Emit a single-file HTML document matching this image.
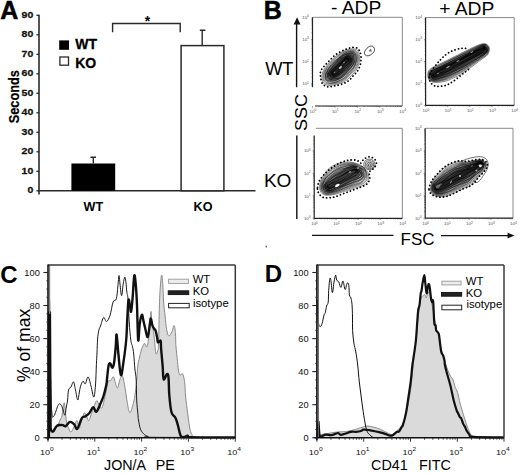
<!DOCTYPE html>
<html><head><meta charset="utf-8"><title>Figure</title>
<style>
html,body{margin:0;padding:0;background:#fff;}
body{width:520px;height:473px;overflow:hidden;}
svg{display:block;font-family:"Liberation Sans", sans-serif;}
</style></head><body>
<svg width="520" height="473" viewBox="0 0 520 473">
<rect width="520" height="473" fill="#fff"/>
<text x="0.3" y="18.6" font-size="25" font-weight="bold" fill="#000" stroke="#000" stroke-width="0.5">A</text>
<line x1="39" y1="14.8" x2="39" y2="194.6" stroke="#2a2a2a" stroke-width="1.6"/>
<line x1="36.4" y1="190.8" x2="39" y2="190.8" stroke="#2a2a2a" stroke-width="1.3"/>
<text x="0" y="0" transform="translate(33.3,193.0) scale(1.25,1)" text-anchor="end" font-size="8.4" font-weight="bold" fill="#111" stroke="#111" stroke-width="0.25">0</text>
<line x1="36.4" y1="171.3" x2="39" y2="171.3" stroke="#2a2a2a" stroke-width="1.3"/>
<text x="0" y="0" transform="translate(33.3,173.5) scale(1.25,1)" text-anchor="end" font-size="8.4" font-weight="bold" fill="#111" stroke="#111" stroke-width="0.25">10</text>
<line x1="36.4" y1="151.8" x2="39" y2="151.8" stroke="#2a2a2a" stroke-width="1.3"/>
<text x="0" y="0" transform="translate(33.3,154.0) scale(1.25,1)" text-anchor="end" font-size="8.4" font-weight="bold" fill="#111" stroke="#111" stroke-width="0.25">20</text>
<line x1="36.4" y1="132.3" x2="39" y2="132.3" stroke="#2a2a2a" stroke-width="1.3"/>
<text x="0" y="0" transform="translate(33.3,134.5) scale(1.25,1)" text-anchor="end" font-size="8.4" font-weight="bold" fill="#111" stroke="#111" stroke-width="0.25">30</text>
<line x1="36.4" y1="112.8" x2="39" y2="112.8" stroke="#2a2a2a" stroke-width="1.3"/>
<text x="0" y="0" transform="translate(33.3,115.0) scale(1.25,1)" text-anchor="end" font-size="8.4" font-weight="bold" fill="#111" stroke="#111" stroke-width="0.25">40</text>
<line x1="36.4" y1="93.3" x2="39" y2="93.3" stroke="#2a2a2a" stroke-width="1.3"/>
<text x="0" y="0" transform="translate(33.3,95.5) scale(1.25,1)" text-anchor="end" font-size="8.4" font-weight="bold" fill="#111" stroke="#111" stroke-width="0.25">50</text>
<line x1="36.4" y1="73.8" x2="39" y2="73.8" stroke="#2a2a2a" stroke-width="1.3"/>
<text x="0" y="0" transform="translate(33.3,76.0) scale(1.25,1)" text-anchor="end" font-size="8.4" font-weight="bold" fill="#111" stroke="#111" stroke-width="0.25">60</text>
<line x1="36.4" y1="54.3" x2="39" y2="54.3" stroke="#2a2a2a" stroke-width="1.3"/>
<text x="0" y="0" transform="translate(33.3,56.5) scale(1.25,1)" text-anchor="end" font-size="8.4" font-weight="bold" fill="#111" stroke="#111" stroke-width="0.25">70</text>
<line x1="36.4" y1="34.8" x2="39" y2="34.8" stroke="#2a2a2a" stroke-width="1.3"/>
<text x="0" y="0" transform="translate(33.3,37.0) scale(1.25,1)" text-anchor="end" font-size="8.4" font-weight="bold" fill="#111" stroke="#111" stroke-width="0.25">80</text>
<line x1="36.4" y1="15.3" x2="39" y2="15.3" stroke="#2a2a2a" stroke-width="1.3"/>
<text x="0" y="0" transform="translate(33.3,17.5) scale(1.25,1)" text-anchor="end" font-size="8.4" font-weight="bold" fill="#111" stroke="#111" stroke-width="0.25">90</text>
<line x1="38.2" y1="190.8" x2="255.5" y2="190.8" stroke="#2a2a2a" stroke-width="1.6"/>
<rect x="71.4" y="163.5" width="43.8" height="27.3" fill="#000"/>
<path d="M93.3,163.5 V157.2 M90.4,157.2 H96" stroke="#2a2a2a" stroke-width="1.4" fill="none"/>
<rect x="181.1" y="45.6" width="42.8" height="145.2" fill="#fff" stroke="#2a2a2a" stroke-width="1.5"/>
<path d="M202.2,45 V30.2 M199.8,30.2 H205.4" stroke="#2a2a2a" stroke-width="1.4" fill="none"/>
<path d="M112.6,32.2 V23.5 H180.2 V32.2" stroke="#2a2a2a" stroke-width="1.4" fill="none"/>
<text x="147.6" y="26" text-anchor="middle" font-size="14" font-weight="bold" fill="#000">*</text>
<rect x="59.2" y="40.4" width="9.8" height="9.4" fill="#000"/>
<rect x="59.9" y="57" width="8.6" height="8.2" fill="#fff" stroke="#2a2a2a" stroke-width="1.3"/>
<text x="75.2" y="49.1" font-size="14" font-weight="bold" fill="#000" stroke="#000" stroke-width="0.3">WT</text>
<text x="75.2" y="68" font-size="14" font-weight="bold" fill="#000" stroke="#000" stroke-width="0.3">KO</text>
<text transform="translate(19,96.7) rotate(-90) scale(1,1.1)" text-anchor="middle" font-size="12.8" font-weight="bold" fill="#000" stroke="#000" stroke-width="0.2">Seconds</text>
<text x="93.4" y="211" text-anchor="middle" font-size="12.6" font-weight="bold" fill="#000">WT</text>
<text x="203" y="211.1" text-anchor="middle" font-size="12.6" font-weight="bold" fill="#000">KO</text>
<text x="263.7" y="18.6" font-size="25" font-weight="bold" fill="#000" stroke="#000" stroke-width="0.5">B</text>
<text transform="translate(331,14.2) scale(1.07,1)" font-size="18" fill="#000">- ADP</text>
<text transform="translate(439.2,14.8) scale(1.07,1)" font-size="18" fill="#000">+ ADP</text>
<text transform="translate(265.2,75) scale(1.04,1)" font-size="17.5" fill="#000">WT</text>
<text transform="translate(263.9,187.3) scale(1.09,1)" font-size="17.5" fill="#000">KO</text>
<text transform="translate(307.2,112.5) rotate(-90) scale(1.09,1)" text-anchor="middle" font-size="16.5" fill="#000">SSC</text>
<text x="400.6" y="245.3" font-size="17" fill="#000">FSC</text>
<line x1="296.6" y1="87.2" x2="296.6" y2="23" stroke="#111" stroke-width="1.4"/>
<path d="M297.1,17.2 L300.5,24.6 L293.6,24.6Z" fill="#111"/>
<line x1="296.8" y1="135.6" x2="296.8" y2="219" stroke="#111" stroke-width="1.4"/>
<line x1="312" y1="235.4" x2="393.5" y2="235.4" stroke="#111" stroke-width="1.4"/>
<line x1="441" y1="235.6" x2="509" y2="235.6" stroke="#111" stroke-width="1.4"/>
<path d="M514.6,235.6 L507.6,232.8 L507.6,238.4Z" fill="#111"/>
<line x1="312.5" y1="17.3" x2="402.3" y2="17.3" stroke="#8a8a8a" stroke-width="1"/>
<line x1="402.3" y1="17.3" x2="402.3" y2="106" stroke="#8a8a8a" stroke-width="1"/>
<line x1="312.5" y1="17.3" x2="312.5" y2="87.2" stroke="#222" stroke-width="1.2"/>
<line x1="315" y1="106" x2="402.3" y2="106" stroke="#222" stroke-width="1.2"/>
<line x1="312.50" y1="106" x2="312.50" y2="107.6" stroke="#333" stroke-width="0.5"/>
<line x1="319.26" y1="106" x2="319.26" y2="107.0" stroke="#333" stroke-width="0.5"/>
<line x1="323.21" y1="106" x2="323.21" y2="107.0" stroke="#333" stroke-width="0.5"/>
<line x1="326.02" y1="106" x2="326.02" y2="107.0" stroke="#333" stroke-width="0.5"/>
<line x1="328.19" y1="106" x2="328.19" y2="107.0" stroke="#333" stroke-width="0.5"/>
<line x1="329.97" y1="106" x2="329.97" y2="107.0" stroke="#333" stroke-width="0.5"/>
<line x1="331.47" y1="106" x2="331.47" y2="107.0" stroke="#333" stroke-width="0.5"/>
<line x1="332.77" y1="106" x2="332.77" y2="107.0" stroke="#333" stroke-width="0.5"/>
<line x1="311.5" y1="85.97" x2="312.5" y2="85.97" stroke="#333" stroke-width="0.5"/>
<line x1="333.92" y1="106" x2="333.92" y2="107.0" stroke="#333" stroke-width="0.5"/>
<line x1="311.5" y1="84.84" x2="312.5" y2="84.84" stroke="#333" stroke-width="0.5"/>
<line x1="334.95" y1="106" x2="334.95" y2="107.6" stroke="#333" stroke-width="0.5"/>
<line x1="310.9" y1="83.83" x2="312.5" y2="83.83" stroke="#333" stroke-width="0.5"/>
<line x1="341.71" y1="106" x2="341.71" y2="107.0" stroke="#333" stroke-width="0.5"/>
<line x1="311.5" y1="77.15" x2="312.5" y2="77.15" stroke="#333" stroke-width="0.5"/>
<line x1="345.66" y1="106" x2="345.66" y2="107.0" stroke="#333" stroke-width="0.5"/>
<line x1="311.5" y1="73.24" x2="312.5" y2="73.24" stroke="#333" stroke-width="0.5"/>
<line x1="348.47" y1="106" x2="348.47" y2="107.0" stroke="#333" stroke-width="0.5"/>
<line x1="311.5" y1="70.47" x2="312.5" y2="70.47" stroke="#333" stroke-width="0.5"/>
<line x1="350.64" y1="106" x2="350.64" y2="107.0" stroke="#333" stroke-width="0.5"/>
<line x1="311.5" y1="68.33" x2="312.5" y2="68.33" stroke="#333" stroke-width="0.5"/>
<line x1="352.42" y1="106" x2="352.42" y2="107.0" stroke="#333" stroke-width="0.5"/>
<line x1="311.5" y1="66.57" x2="312.5" y2="66.57" stroke="#333" stroke-width="0.5"/>
<line x1="353.92" y1="106" x2="353.92" y2="107.0" stroke="#333" stroke-width="0.5"/>
<line x1="311.5" y1="65.08" x2="312.5" y2="65.08" stroke="#333" stroke-width="0.5"/>
<line x1="355.22" y1="106" x2="355.22" y2="107.0" stroke="#333" stroke-width="0.5"/>
<line x1="311.5" y1="63.80" x2="312.5" y2="63.80" stroke="#333" stroke-width="0.5"/>
<line x1="356.37" y1="106" x2="356.37" y2="107.0" stroke="#333" stroke-width="0.5"/>
<line x1="311.5" y1="62.66" x2="312.5" y2="62.66" stroke="#333" stroke-width="0.5"/>
<line x1="357.40" y1="106" x2="357.40" y2="107.6" stroke="#333" stroke-width="0.5"/>
<line x1="310.9" y1="61.65" x2="312.5" y2="61.65" stroke="#333" stroke-width="0.5"/>
<line x1="364.16" y1="106" x2="364.16" y2="107.0" stroke="#333" stroke-width="0.5"/>
<line x1="311.5" y1="54.97" x2="312.5" y2="54.97" stroke="#333" stroke-width="0.5"/>
<line x1="368.11" y1="106" x2="368.11" y2="107.0" stroke="#333" stroke-width="0.5"/>
<line x1="311.5" y1="51.07" x2="312.5" y2="51.07" stroke="#333" stroke-width="0.5"/>
<line x1="370.92" y1="106" x2="370.92" y2="107.0" stroke="#333" stroke-width="0.5"/>
<line x1="311.5" y1="48.30" x2="312.5" y2="48.30" stroke="#333" stroke-width="0.5"/>
<line x1="373.09" y1="106" x2="373.09" y2="107.0" stroke="#333" stroke-width="0.5"/>
<line x1="311.5" y1="46.15" x2="312.5" y2="46.15" stroke="#333" stroke-width="0.5"/>
<line x1="374.87" y1="106" x2="374.87" y2="107.0" stroke="#333" stroke-width="0.5"/>
<line x1="311.5" y1="44.39" x2="312.5" y2="44.39" stroke="#333" stroke-width="0.5"/>
<line x1="376.37" y1="106" x2="376.37" y2="107.0" stroke="#333" stroke-width="0.5"/>
<line x1="311.5" y1="42.91" x2="312.5" y2="42.91" stroke="#333" stroke-width="0.5"/>
<line x1="377.67" y1="106" x2="377.67" y2="107.0" stroke="#333" stroke-width="0.5"/>
<line x1="311.5" y1="41.62" x2="312.5" y2="41.62" stroke="#333" stroke-width="0.5"/>
<line x1="378.82" y1="106" x2="378.82" y2="107.0" stroke="#333" stroke-width="0.5"/>
<line x1="311.5" y1="40.49" x2="312.5" y2="40.49" stroke="#333" stroke-width="0.5"/>
<line x1="379.85" y1="106" x2="379.85" y2="107.6" stroke="#333" stroke-width="0.5"/>
<line x1="310.9" y1="39.47" x2="312.5" y2="39.47" stroke="#333" stroke-width="0.5"/>
<line x1="386.61" y1="106" x2="386.61" y2="107.0" stroke="#333" stroke-width="0.5"/>
<line x1="311.5" y1="32.80" x2="312.5" y2="32.80" stroke="#333" stroke-width="0.5"/>
<line x1="390.56" y1="106" x2="390.56" y2="107.0" stroke="#333" stroke-width="0.5"/>
<line x1="311.5" y1="28.89" x2="312.5" y2="28.89" stroke="#333" stroke-width="0.5"/>
<line x1="393.37" y1="106" x2="393.37" y2="107.0" stroke="#333" stroke-width="0.5"/>
<line x1="311.5" y1="26.12" x2="312.5" y2="26.12" stroke="#333" stroke-width="0.5"/>
<line x1="395.54" y1="106" x2="395.54" y2="107.0" stroke="#333" stroke-width="0.5"/>
<line x1="311.5" y1="23.98" x2="312.5" y2="23.98" stroke="#333" stroke-width="0.5"/>
<line x1="397.32" y1="106" x2="397.32" y2="107.0" stroke="#333" stroke-width="0.5"/>
<line x1="311.5" y1="22.22" x2="312.5" y2="22.22" stroke="#333" stroke-width="0.5"/>
<line x1="398.82" y1="106" x2="398.82" y2="107.0" stroke="#333" stroke-width="0.5"/>
<line x1="311.5" y1="20.73" x2="312.5" y2="20.73" stroke="#333" stroke-width="0.5"/>
<line x1="400.12" y1="106" x2="400.12" y2="107.0" stroke="#333" stroke-width="0.5"/>
<line x1="311.5" y1="19.45" x2="312.5" y2="19.45" stroke="#333" stroke-width="0.5"/>
<line x1="401.27" y1="106" x2="401.27" y2="107.0" stroke="#333" stroke-width="0.5"/>
<line x1="311.5" y1="18.31" x2="312.5" y2="18.31" stroke="#333" stroke-width="0.5"/>
<text x="309.5" y="113.0" font-size="4.4" fill="#555">10<tspan dy="-1.7" font-size="3.3">0</tspan></text>
<text x="331.9" y="113.0" font-size="4.4" fill="#555">10<tspan dy="-1.7" font-size="3.3">1</tspan></text>
<text x="302.2" y="85.4" font-size="4.4" fill="#555">10<tspan dy="-1.7" font-size="3.3">1</tspan></text>
<text x="354.4" y="113.0" font-size="4.4" fill="#555">10<tspan dy="-1.7" font-size="3.3">2</tspan></text>
<text x="302.2" y="63.2" font-size="4.4" fill="#555">10<tspan dy="-1.7" font-size="3.3">2</tspan></text>
<text x="376.9" y="113.0" font-size="4.4" fill="#555">10<tspan dy="-1.7" font-size="3.3">3</tspan></text>
<text x="302.2" y="41.1" font-size="4.4" fill="#555">10<tspan dy="-1.7" font-size="3.3">3</tspan></text>
<text x="399.3" y="113.0" font-size="4.4" fill="#555">10<tspan dy="-1.7" font-size="3.3">4</tspan></text>
<text x="302.2" y="18.9" font-size="4.4" fill="#555">10<tspan dy="-1.7" font-size="3.3">4</tspan></text>
<line x1="425.6" y1="17.6" x2="514.2" y2="17.6" stroke="#8a8a8a" stroke-width="1"/>
<line x1="514.2" y1="17.6" x2="514.2" y2="105.4" stroke="#8a8a8a" stroke-width="1"/>
<line x1="425.6" y1="17.6" x2="425.6" y2="105.4" stroke="#222" stroke-width="1.2"/>
<line x1="425.6" y1="105.4" x2="514.2" y2="105.4" stroke="#222" stroke-width="1.2"/>
<line x1="425.60" y1="105.4" x2="425.60" y2="107.0" stroke="#333" stroke-width="0.5"/>
<line x1="424.0" y1="105.40" x2="425.6" y2="105.40" stroke="#333" stroke-width="0.5"/>
<line x1="432.27" y1="105.4" x2="432.27" y2="106.4" stroke="#333" stroke-width="0.5"/>
<line x1="424.6" y1="98.79" x2="425.6" y2="98.79" stroke="#333" stroke-width="0.5"/>
<line x1="436.17" y1="105.4" x2="436.17" y2="106.4" stroke="#333" stroke-width="0.5"/>
<line x1="424.6" y1="94.93" x2="425.6" y2="94.93" stroke="#333" stroke-width="0.5"/>
<line x1="438.94" y1="105.4" x2="438.94" y2="106.4" stroke="#333" stroke-width="0.5"/>
<line x1="424.6" y1="92.18" x2="425.6" y2="92.18" stroke="#333" stroke-width="0.5"/>
<line x1="441.08" y1="105.4" x2="441.08" y2="106.4" stroke="#333" stroke-width="0.5"/>
<line x1="424.6" y1="90.06" x2="425.6" y2="90.06" stroke="#333" stroke-width="0.5"/>
<line x1="442.84" y1="105.4" x2="442.84" y2="106.4" stroke="#333" stroke-width="0.5"/>
<line x1="424.6" y1="88.32" x2="425.6" y2="88.32" stroke="#333" stroke-width="0.5"/>
<line x1="444.32" y1="105.4" x2="444.32" y2="106.4" stroke="#333" stroke-width="0.5"/>
<line x1="424.6" y1="86.85" x2="425.6" y2="86.85" stroke="#333" stroke-width="0.5"/>
<line x1="445.60" y1="105.4" x2="445.60" y2="106.4" stroke="#333" stroke-width="0.5"/>
<line x1="424.6" y1="85.58" x2="425.6" y2="85.58" stroke="#333" stroke-width="0.5"/>
<line x1="446.74" y1="105.4" x2="446.74" y2="106.4" stroke="#333" stroke-width="0.5"/>
<line x1="424.6" y1="84.45" x2="425.6" y2="84.45" stroke="#333" stroke-width="0.5"/>
<line x1="447.75" y1="105.4" x2="447.75" y2="107.0" stroke="#333" stroke-width="0.5"/>
<line x1="424.0" y1="83.45" x2="425.6" y2="83.45" stroke="#333" stroke-width="0.5"/>
<line x1="454.42" y1="105.4" x2="454.42" y2="106.4" stroke="#333" stroke-width="0.5"/>
<line x1="424.6" y1="76.84" x2="425.6" y2="76.84" stroke="#333" stroke-width="0.5"/>
<line x1="458.32" y1="105.4" x2="458.32" y2="106.4" stroke="#333" stroke-width="0.5"/>
<line x1="424.6" y1="72.98" x2="425.6" y2="72.98" stroke="#333" stroke-width="0.5"/>
<line x1="461.09" y1="105.4" x2="461.09" y2="106.4" stroke="#333" stroke-width="0.5"/>
<line x1="424.6" y1="70.23" x2="425.6" y2="70.23" stroke="#333" stroke-width="0.5"/>
<line x1="463.23" y1="105.4" x2="463.23" y2="106.4" stroke="#333" stroke-width="0.5"/>
<line x1="424.6" y1="68.11" x2="425.6" y2="68.11" stroke="#333" stroke-width="0.5"/>
<line x1="464.99" y1="105.4" x2="464.99" y2="106.4" stroke="#333" stroke-width="0.5"/>
<line x1="424.6" y1="66.37" x2="425.6" y2="66.37" stroke="#333" stroke-width="0.5"/>
<line x1="466.47" y1="105.4" x2="466.47" y2="106.4" stroke="#333" stroke-width="0.5"/>
<line x1="424.6" y1="64.90" x2="425.6" y2="64.90" stroke="#333" stroke-width="0.5"/>
<line x1="467.75" y1="105.4" x2="467.75" y2="106.4" stroke="#333" stroke-width="0.5"/>
<line x1="424.6" y1="63.63" x2="425.6" y2="63.63" stroke="#333" stroke-width="0.5"/>
<line x1="468.89" y1="105.4" x2="468.89" y2="106.4" stroke="#333" stroke-width="0.5"/>
<line x1="424.6" y1="62.50" x2="425.6" y2="62.50" stroke="#333" stroke-width="0.5"/>
<line x1="469.90" y1="105.4" x2="469.90" y2="107.0" stroke="#333" stroke-width="0.5"/>
<line x1="424.0" y1="61.50" x2="425.6" y2="61.50" stroke="#333" stroke-width="0.5"/>
<line x1="476.57" y1="105.4" x2="476.57" y2="106.4" stroke="#333" stroke-width="0.5"/>
<line x1="424.6" y1="54.89" x2="425.6" y2="54.89" stroke="#333" stroke-width="0.5"/>
<line x1="480.47" y1="105.4" x2="480.47" y2="106.4" stroke="#333" stroke-width="0.5"/>
<line x1="424.6" y1="51.03" x2="425.6" y2="51.03" stroke="#333" stroke-width="0.5"/>
<line x1="483.24" y1="105.4" x2="483.24" y2="106.4" stroke="#333" stroke-width="0.5"/>
<line x1="424.6" y1="48.28" x2="425.6" y2="48.28" stroke="#333" stroke-width="0.5"/>
<line x1="485.38" y1="105.4" x2="485.38" y2="106.4" stroke="#333" stroke-width="0.5"/>
<line x1="424.6" y1="46.16" x2="425.6" y2="46.16" stroke="#333" stroke-width="0.5"/>
<line x1="487.14" y1="105.4" x2="487.14" y2="106.4" stroke="#333" stroke-width="0.5"/>
<line x1="424.6" y1="44.42" x2="425.6" y2="44.42" stroke="#333" stroke-width="0.5"/>
<line x1="488.62" y1="105.4" x2="488.62" y2="106.4" stroke="#333" stroke-width="0.5"/>
<line x1="424.6" y1="42.95" x2="425.6" y2="42.95" stroke="#333" stroke-width="0.5"/>
<line x1="489.90" y1="105.4" x2="489.90" y2="106.4" stroke="#333" stroke-width="0.5"/>
<line x1="424.6" y1="41.68" x2="425.6" y2="41.68" stroke="#333" stroke-width="0.5"/>
<line x1="491.04" y1="105.4" x2="491.04" y2="106.4" stroke="#333" stroke-width="0.5"/>
<line x1="424.6" y1="40.55" x2="425.6" y2="40.55" stroke="#333" stroke-width="0.5"/>
<line x1="492.05" y1="105.4" x2="492.05" y2="107.0" stroke="#333" stroke-width="0.5"/>
<line x1="424.0" y1="39.55" x2="425.6" y2="39.55" stroke="#333" stroke-width="0.5"/>
<line x1="498.72" y1="105.4" x2="498.72" y2="106.4" stroke="#333" stroke-width="0.5"/>
<line x1="424.6" y1="32.94" x2="425.6" y2="32.94" stroke="#333" stroke-width="0.5"/>
<line x1="502.62" y1="105.4" x2="502.62" y2="106.4" stroke="#333" stroke-width="0.5"/>
<line x1="424.6" y1="29.08" x2="425.6" y2="29.08" stroke="#333" stroke-width="0.5"/>
<line x1="505.39" y1="105.4" x2="505.39" y2="106.4" stroke="#333" stroke-width="0.5"/>
<line x1="424.6" y1="26.33" x2="425.6" y2="26.33" stroke="#333" stroke-width="0.5"/>
<line x1="507.53" y1="105.4" x2="507.53" y2="106.4" stroke="#333" stroke-width="0.5"/>
<line x1="424.6" y1="24.21" x2="425.6" y2="24.21" stroke="#333" stroke-width="0.5"/>
<line x1="509.29" y1="105.4" x2="509.29" y2="106.4" stroke="#333" stroke-width="0.5"/>
<line x1="424.6" y1="22.47" x2="425.6" y2="22.47" stroke="#333" stroke-width="0.5"/>
<line x1="510.77" y1="105.4" x2="510.77" y2="106.4" stroke="#333" stroke-width="0.5"/>
<line x1="424.6" y1="21.00" x2="425.6" y2="21.00" stroke="#333" stroke-width="0.5"/>
<line x1="512.05" y1="105.4" x2="512.05" y2="106.4" stroke="#333" stroke-width="0.5"/>
<line x1="424.6" y1="19.73" x2="425.6" y2="19.73" stroke="#333" stroke-width="0.5"/>
<line x1="513.19" y1="105.4" x2="513.19" y2="106.4" stroke="#333" stroke-width="0.5"/>
<line x1="424.6" y1="18.60" x2="425.6" y2="18.60" stroke="#333" stroke-width="0.5"/>
<text x="422.6" y="112.4" font-size="4.4" fill="#555">10<tspan dy="-1.7" font-size="3.3">0</tspan></text>
<text x="415.3" y="107.0" font-size="4.4" fill="#555">10<tspan dy="-1.7" font-size="3.3">0</tspan></text>
<text x="444.8" y="112.4" font-size="4.4" fill="#555">10<tspan dy="-1.7" font-size="3.3">1</tspan></text>
<text x="415.3" y="85.0" font-size="4.4" fill="#555">10<tspan dy="-1.7" font-size="3.3">1</tspan></text>
<text x="466.9" y="112.4" font-size="4.4" fill="#555">10<tspan dy="-1.7" font-size="3.3">2</tspan></text>
<text x="415.3" y="63.1" font-size="4.4" fill="#555">10<tspan dy="-1.7" font-size="3.3">2</tspan></text>
<text x="489.1" y="112.4" font-size="4.4" fill="#555">10<tspan dy="-1.7" font-size="3.3">3</tspan></text>
<text x="415.3" y="41.1" font-size="4.4" fill="#555">10<tspan dy="-1.7" font-size="3.3">3</tspan></text>
<text x="511.2" y="112.4" font-size="4.4" fill="#555">10<tspan dy="-1.7" font-size="3.3">4</tspan></text>
<text x="415.3" y="19.2" font-size="4.4" fill="#555">10<tspan dy="-1.7" font-size="3.3">4</tspan></text>
<line x1="315.8" y1="128.3" x2="402.3" y2="128.3" stroke="#8a8a8a" stroke-width="1"/>
<line x1="402.3" y1="128.3" x2="402.3" y2="218.4" stroke="#8a8a8a" stroke-width="1"/>
<line x1="314.2" y1="128.3" x2="314.2" y2="128.3" stroke="#222" stroke-width="1.2"/>
<line x1="314.2" y1="135.6" x2="314.2" y2="218.4" stroke="#222" stroke-width="1.2"/>
<line x1="314.2" y1="218.4" x2="402.3" y2="218.4" stroke="#222" stroke-width="1.2"/>
<line x1="314.20" y1="218.4" x2="314.20" y2="220.0" stroke="#333" stroke-width="0.5"/>
<line x1="312.59999999999997" y1="218.40" x2="314.2" y2="218.40" stroke="#333" stroke-width="0.5"/>
<line x1="320.83" y1="218.4" x2="320.83" y2="219.4" stroke="#333" stroke-width="0.5"/>
<line x1="313.2" y1="211.62" x2="314.2" y2="211.62" stroke="#333" stroke-width="0.5"/>
<line x1="324.71" y1="218.4" x2="324.71" y2="219.4" stroke="#333" stroke-width="0.5"/>
<line x1="313.2" y1="207.65" x2="314.2" y2="207.65" stroke="#333" stroke-width="0.5"/>
<line x1="327.46" y1="218.4" x2="327.46" y2="219.4" stroke="#333" stroke-width="0.5"/>
<line x1="313.2" y1="204.84" x2="314.2" y2="204.84" stroke="#333" stroke-width="0.5"/>
<line x1="329.59" y1="218.4" x2="329.59" y2="219.4" stroke="#333" stroke-width="0.5"/>
<line x1="313.2" y1="202.66" x2="314.2" y2="202.66" stroke="#333" stroke-width="0.5"/>
<line x1="331.34" y1="218.4" x2="331.34" y2="219.4" stroke="#333" stroke-width="0.5"/>
<line x1="313.2" y1="200.87" x2="314.2" y2="200.87" stroke="#333" stroke-width="0.5"/>
<line x1="332.81" y1="218.4" x2="332.81" y2="219.4" stroke="#333" stroke-width="0.5"/>
<line x1="313.2" y1="199.36" x2="314.2" y2="199.36" stroke="#333" stroke-width="0.5"/>
<line x1="334.09" y1="218.4" x2="334.09" y2="219.4" stroke="#333" stroke-width="0.5"/>
<line x1="313.2" y1="198.06" x2="314.2" y2="198.06" stroke="#333" stroke-width="0.5"/>
<line x1="335.22" y1="218.4" x2="335.22" y2="219.4" stroke="#333" stroke-width="0.5"/>
<line x1="313.2" y1="196.91" x2="314.2" y2="196.91" stroke="#333" stroke-width="0.5"/>
<line x1="336.23" y1="218.4" x2="336.23" y2="220.0" stroke="#333" stroke-width="0.5"/>
<line x1="312.59999999999997" y1="195.88" x2="314.2" y2="195.88" stroke="#333" stroke-width="0.5"/>
<line x1="342.86" y1="218.4" x2="342.86" y2="219.4" stroke="#333" stroke-width="0.5"/>
<line x1="313.2" y1="189.09" x2="314.2" y2="189.09" stroke="#333" stroke-width="0.5"/>
<line x1="346.73" y1="218.4" x2="346.73" y2="219.4" stroke="#333" stroke-width="0.5"/>
<line x1="313.2" y1="185.13" x2="314.2" y2="185.13" stroke="#333" stroke-width="0.5"/>
<line x1="349.49" y1="218.4" x2="349.49" y2="219.4" stroke="#333" stroke-width="0.5"/>
<line x1="313.2" y1="182.31" x2="314.2" y2="182.31" stroke="#333" stroke-width="0.5"/>
<line x1="351.62" y1="218.4" x2="351.62" y2="219.4" stroke="#333" stroke-width="0.5"/>
<line x1="313.2" y1="180.13" x2="314.2" y2="180.13" stroke="#333" stroke-width="0.5"/>
<line x1="353.36" y1="218.4" x2="353.36" y2="219.4" stroke="#333" stroke-width="0.5"/>
<line x1="313.2" y1="178.35" x2="314.2" y2="178.35" stroke="#333" stroke-width="0.5"/>
<line x1="354.84" y1="218.4" x2="354.84" y2="219.4" stroke="#333" stroke-width="0.5"/>
<line x1="313.2" y1="176.84" x2="314.2" y2="176.84" stroke="#333" stroke-width="0.5"/>
<line x1="356.12" y1="218.4" x2="356.12" y2="219.4" stroke="#333" stroke-width="0.5"/>
<line x1="313.2" y1="175.53" x2="314.2" y2="175.53" stroke="#333" stroke-width="0.5"/>
<line x1="357.24" y1="218.4" x2="357.24" y2="219.4" stroke="#333" stroke-width="0.5"/>
<line x1="313.2" y1="174.38" x2="314.2" y2="174.38" stroke="#333" stroke-width="0.5"/>
<line x1="358.25" y1="218.4" x2="358.25" y2="220.0" stroke="#333" stroke-width="0.5"/>
<line x1="312.59999999999997" y1="173.35" x2="314.2" y2="173.35" stroke="#333" stroke-width="0.5"/>
<line x1="364.88" y1="218.4" x2="364.88" y2="219.4" stroke="#333" stroke-width="0.5"/>
<line x1="313.2" y1="166.57" x2="314.2" y2="166.57" stroke="#333" stroke-width="0.5"/>
<line x1="368.76" y1="218.4" x2="368.76" y2="219.4" stroke="#333" stroke-width="0.5"/>
<line x1="313.2" y1="162.60" x2="314.2" y2="162.60" stroke="#333" stroke-width="0.5"/>
<line x1="371.51" y1="218.4" x2="371.51" y2="219.4" stroke="#333" stroke-width="0.5"/>
<line x1="313.2" y1="159.79" x2="314.2" y2="159.79" stroke="#333" stroke-width="0.5"/>
<line x1="373.64" y1="218.4" x2="373.64" y2="219.4" stroke="#333" stroke-width="0.5"/>
<line x1="313.2" y1="157.61" x2="314.2" y2="157.61" stroke="#333" stroke-width="0.5"/>
<line x1="375.39" y1="218.4" x2="375.39" y2="219.4" stroke="#333" stroke-width="0.5"/>
<line x1="313.2" y1="155.82" x2="314.2" y2="155.82" stroke="#333" stroke-width="0.5"/>
<line x1="376.86" y1="218.4" x2="376.86" y2="219.4" stroke="#333" stroke-width="0.5"/>
<line x1="313.2" y1="154.31" x2="314.2" y2="154.31" stroke="#333" stroke-width="0.5"/>
<line x1="378.14" y1="218.4" x2="378.14" y2="219.4" stroke="#333" stroke-width="0.5"/>
<line x1="313.2" y1="153.01" x2="314.2" y2="153.01" stroke="#333" stroke-width="0.5"/>
<line x1="379.27" y1="218.4" x2="379.27" y2="219.4" stroke="#333" stroke-width="0.5"/>
<line x1="313.2" y1="151.86" x2="314.2" y2="151.86" stroke="#333" stroke-width="0.5"/>
<line x1="380.27" y1="218.4" x2="380.27" y2="220.0" stroke="#333" stroke-width="0.5"/>
<line x1="312.59999999999997" y1="150.83" x2="314.2" y2="150.83" stroke="#333" stroke-width="0.5"/>
<line x1="386.91" y1="218.4" x2="386.91" y2="219.4" stroke="#333" stroke-width="0.5"/>
<line x1="313.2" y1="144.04" x2="314.2" y2="144.04" stroke="#333" stroke-width="0.5"/>
<line x1="390.78" y1="218.4" x2="390.78" y2="219.4" stroke="#333" stroke-width="0.5"/>
<line x1="313.2" y1="140.08" x2="314.2" y2="140.08" stroke="#333" stroke-width="0.5"/>
<line x1="393.54" y1="218.4" x2="393.54" y2="219.4" stroke="#333" stroke-width="0.5"/>
<line x1="313.2" y1="137.26" x2="314.2" y2="137.26" stroke="#333" stroke-width="0.5"/>
<line x1="395.67" y1="218.4" x2="395.67" y2="219.4" stroke="#333" stroke-width="0.5"/>
<line x1="397.41" y1="218.4" x2="397.41" y2="219.4" stroke="#333" stroke-width="0.5"/>
<line x1="398.89" y1="218.4" x2="398.89" y2="219.4" stroke="#333" stroke-width="0.5"/>
<line x1="400.17" y1="218.4" x2="400.17" y2="219.4" stroke="#333" stroke-width="0.5"/>
<line x1="401.29" y1="218.4" x2="401.29" y2="219.4" stroke="#333" stroke-width="0.5"/>
<text x="311.2" y="225.4" font-size="4.4" fill="#555">10<tspan dy="-1.7" font-size="3.3">0</tspan></text>
<text x="303.9" y="220.0" font-size="4.4" fill="#555">10<tspan dy="-1.7" font-size="3.3">0</tspan></text>
<text x="333.2" y="225.4" font-size="4.4" fill="#555">10<tspan dy="-1.7" font-size="3.3">1</tspan></text>
<text x="303.9" y="197.5" font-size="4.4" fill="#555">10<tspan dy="-1.7" font-size="3.3">1</tspan></text>
<text x="355.2" y="225.4" font-size="4.4" fill="#555">10<tspan dy="-1.7" font-size="3.3">2</tspan></text>
<text x="303.9" y="175.0" font-size="4.4" fill="#555">10<tspan dy="-1.7" font-size="3.3">2</tspan></text>
<text x="377.3" y="225.4" font-size="4.4" fill="#555">10<tspan dy="-1.7" font-size="3.3">3</tspan></text>
<text x="303.9" y="152.4" font-size="4.4" fill="#555">10<tspan dy="-1.7" font-size="3.3">3</tspan></text>
<text x="399.3" y="225.4" font-size="4.4" fill="#555">10<tspan dy="-1.7" font-size="3.3">4</tspan></text>
<line x1="425.2" y1="128.3" x2="513" y2="128.3" stroke="#8a8a8a" stroke-width="1"/>
<line x1="513" y1="128.3" x2="513" y2="218.2" stroke="#8a8a8a" stroke-width="1"/>
<line x1="425.2" y1="128.3" x2="425.2" y2="218.2" stroke="#222" stroke-width="1.2"/>
<line x1="425.2" y1="218.2" x2="513" y2="218.2" stroke="#222" stroke-width="1.2"/>
<line x1="425.20" y1="218.2" x2="425.20" y2="219.79999999999998" stroke="#333" stroke-width="0.5"/>
<line x1="423.59999999999997" y1="218.20" x2="425.2" y2="218.20" stroke="#333" stroke-width="0.5"/>
<line x1="431.81" y1="218.2" x2="431.81" y2="219.2" stroke="#333" stroke-width="0.5"/>
<line x1="424.2" y1="211.43" x2="425.2" y2="211.43" stroke="#333" stroke-width="0.5"/>
<line x1="435.67" y1="218.2" x2="435.67" y2="219.2" stroke="#333" stroke-width="0.5"/>
<line x1="424.2" y1="207.48" x2="425.2" y2="207.48" stroke="#333" stroke-width="0.5"/>
<line x1="438.42" y1="218.2" x2="438.42" y2="219.2" stroke="#333" stroke-width="0.5"/>
<line x1="424.2" y1="204.67" x2="425.2" y2="204.67" stroke="#333" stroke-width="0.5"/>
<line x1="440.54" y1="218.2" x2="440.54" y2="219.2" stroke="#333" stroke-width="0.5"/>
<line x1="424.2" y1="202.49" x2="425.2" y2="202.49" stroke="#333" stroke-width="0.5"/>
<line x1="442.28" y1="218.2" x2="442.28" y2="219.2" stroke="#333" stroke-width="0.5"/>
<line x1="424.2" y1="200.71" x2="425.2" y2="200.71" stroke="#333" stroke-width="0.5"/>
<line x1="443.75" y1="218.2" x2="443.75" y2="219.2" stroke="#333" stroke-width="0.5"/>
<line x1="424.2" y1="199.21" x2="425.2" y2="199.21" stroke="#333" stroke-width="0.5"/>
<line x1="445.02" y1="218.2" x2="445.02" y2="219.2" stroke="#333" stroke-width="0.5"/>
<line x1="424.2" y1="197.90" x2="425.2" y2="197.90" stroke="#333" stroke-width="0.5"/>
<line x1="446.15" y1="218.2" x2="446.15" y2="219.2" stroke="#333" stroke-width="0.5"/>
<line x1="424.2" y1="196.75" x2="425.2" y2="196.75" stroke="#333" stroke-width="0.5"/>
<line x1="447.15" y1="218.2" x2="447.15" y2="219.79999999999998" stroke="#333" stroke-width="0.5"/>
<line x1="423.59999999999997" y1="195.72" x2="425.2" y2="195.72" stroke="#333" stroke-width="0.5"/>
<line x1="453.76" y1="218.2" x2="453.76" y2="219.2" stroke="#333" stroke-width="0.5"/>
<line x1="424.2" y1="188.96" x2="425.2" y2="188.96" stroke="#333" stroke-width="0.5"/>
<line x1="457.62" y1="218.2" x2="457.62" y2="219.2" stroke="#333" stroke-width="0.5"/>
<line x1="424.2" y1="185.00" x2="425.2" y2="185.00" stroke="#333" stroke-width="0.5"/>
<line x1="460.37" y1="218.2" x2="460.37" y2="219.2" stroke="#333" stroke-width="0.5"/>
<line x1="424.2" y1="182.19" x2="425.2" y2="182.19" stroke="#333" stroke-width="0.5"/>
<line x1="462.49" y1="218.2" x2="462.49" y2="219.2" stroke="#333" stroke-width="0.5"/>
<line x1="424.2" y1="180.02" x2="425.2" y2="180.02" stroke="#333" stroke-width="0.5"/>
<line x1="464.23" y1="218.2" x2="464.23" y2="219.2" stroke="#333" stroke-width="0.5"/>
<line x1="424.2" y1="178.24" x2="425.2" y2="178.24" stroke="#333" stroke-width="0.5"/>
<line x1="465.70" y1="218.2" x2="465.70" y2="219.2" stroke="#333" stroke-width="0.5"/>
<line x1="424.2" y1="176.73" x2="425.2" y2="176.73" stroke="#333" stroke-width="0.5"/>
<line x1="466.97" y1="218.2" x2="466.97" y2="219.2" stroke="#333" stroke-width="0.5"/>
<line x1="424.2" y1="175.43" x2="425.2" y2="175.43" stroke="#333" stroke-width="0.5"/>
<line x1="468.10" y1="218.2" x2="468.10" y2="219.2" stroke="#333" stroke-width="0.5"/>
<line x1="424.2" y1="174.28" x2="425.2" y2="174.28" stroke="#333" stroke-width="0.5"/>
<line x1="469.10" y1="218.2" x2="469.10" y2="219.79999999999998" stroke="#333" stroke-width="0.5"/>
<line x1="423.59999999999997" y1="173.25" x2="425.2" y2="173.25" stroke="#333" stroke-width="0.5"/>
<line x1="475.71" y1="218.2" x2="475.71" y2="219.2" stroke="#333" stroke-width="0.5"/>
<line x1="424.2" y1="166.48" x2="425.2" y2="166.48" stroke="#333" stroke-width="0.5"/>
<line x1="479.57" y1="218.2" x2="479.57" y2="219.2" stroke="#333" stroke-width="0.5"/>
<line x1="424.2" y1="162.53" x2="425.2" y2="162.53" stroke="#333" stroke-width="0.5"/>
<line x1="482.32" y1="218.2" x2="482.32" y2="219.2" stroke="#333" stroke-width="0.5"/>
<line x1="424.2" y1="159.72" x2="425.2" y2="159.72" stroke="#333" stroke-width="0.5"/>
<line x1="484.44" y1="218.2" x2="484.44" y2="219.2" stroke="#333" stroke-width="0.5"/>
<line x1="424.2" y1="157.54" x2="425.2" y2="157.54" stroke="#333" stroke-width="0.5"/>
<line x1="486.18" y1="218.2" x2="486.18" y2="219.2" stroke="#333" stroke-width="0.5"/>
<line x1="424.2" y1="155.76" x2="425.2" y2="155.76" stroke="#333" stroke-width="0.5"/>
<line x1="487.65" y1="218.2" x2="487.65" y2="219.2" stroke="#333" stroke-width="0.5"/>
<line x1="424.2" y1="154.26" x2="425.2" y2="154.26" stroke="#333" stroke-width="0.5"/>
<line x1="488.92" y1="218.2" x2="488.92" y2="219.2" stroke="#333" stroke-width="0.5"/>
<line x1="424.2" y1="152.95" x2="425.2" y2="152.95" stroke="#333" stroke-width="0.5"/>
<line x1="490.05" y1="218.2" x2="490.05" y2="219.2" stroke="#333" stroke-width="0.5"/>
<line x1="424.2" y1="151.80" x2="425.2" y2="151.80" stroke="#333" stroke-width="0.5"/>
<line x1="491.05" y1="218.2" x2="491.05" y2="219.79999999999998" stroke="#333" stroke-width="0.5"/>
<line x1="423.59999999999997" y1="150.78" x2="425.2" y2="150.78" stroke="#333" stroke-width="0.5"/>
<line x1="497.66" y1="218.2" x2="497.66" y2="219.2" stroke="#333" stroke-width="0.5"/>
<line x1="424.2" y1="144.01" x2="425.2" y2="144.01" stroke="#333" stroke-width="0.5"/>
<line x1="501.52" y1="218.2" x2="501.52" y2="219.2" stroke="#333" stroke-width="0.5"/>
<line x1="424.2" y1="140.05" x2="425.2" y2="140.05" stroke="#333" stroke-width="0.5"/>
<line x1="504.27" y1="218.2" x2="504.27" y2="219.2" stroke="#333" stroke-width="0.5"/>
<line x1="424.2" y1="137.24" x2="425.2" y2="137.24" stroke="#333" stroke-width="0.5"/>
<line x1="506.39" y1="218.2" x2="506.39" y2="219.2" stroke="#333" stroke-width="0.5"/>
<line x1="424.2" y1="135.07" x2="425.2" y2="135.07" stroke="#333" stroke-width="0.5"/>
<line x1="508.13" y1="218.2" x2="508.13" y2="219.2" stroke="#333" stroke-width="0.5"/>
<line x1="424.2" y1="133.29" x2="425.2" y2="133.29" stroke="#333" stroke-width="0.5"/>
<line x1="509.60" y1="218.2" x2="509.60" y2="219.2" stroke="#333" stroke-width="0.5"/>
<line x1="424.2" y1="131.78" x2="425.2" y2="131.78" stroke="#333" stroke-width="0.5"/>
<line x1="510.87" y1="218.2" x2="510.87" y2="219.2" stroke="#333" stroke-width="0.5"/>
<line x1="424.2" y1="130.48" x2="425.2" y2="130.48" stroke="#333" stroke-width="0.5"/>
<line x1="512.00" y1="218.2" x2="512.00" y2="219.2" stroke="#333" stroke-width="0.5"/>
<line x1="424.2" y1="129.33" x2="425.2" y2="129.33" stroke="#333" stroke-width="0.5"/>
<text x="422.2" y="225.2" font-size="4.4" fill="#555">10<tspan dy="-1.7" font-size="3.3">0</tspan></text>
<text x="414.9" y="219.8" font-size="4.4" fill="#555">10<tspan dy="-1.7" font-size="3.3">0</tspan></text>
<text x="444.1" y="225.2" font-size="4.4" fill="#555">10<tspan dy="-1.7" font-size="3.3">1</tspan></text>
<text x="414.9" y="197.3" font-size="4.4" fill="#555">10<tspan dy="-1.7" font-size="3.3">1</tspan></text>
<text x="466.1" y="225.2" font-size="4.4" fill="#555">10<tspan dy="-1.7" font-size="3.3">2</tspan></text>
<text x="414.9" y="174.8" font-size="4.4" fill="#555">10<tspan dy="-1.7" font-size="3.3">2</tspan></text>
<text x="488.1" y="225.2" font-size="4.4" fill="#555">10<tspan dy="-1.7" font-size="3.3">3</tspan></text>
<text x="414.9" y="152.4" font-size="4.4" fill="#555">10<tspan dy="-1.7" font-size="3.3">3</tspan></text>
<text x="510.0" y="225.2" font-size="4.4" fill="#555">10<tspan dy="-1.7" font-size="3.3">4</tspan></text>
<text x="414.9" y="129.9" font-size="4.4" fill="#555">10<tspan dy="-1.7" font-size="3.3">4</tspan></text>
<path d="M352.80,48.90 C354.52,48.98 356.47,48.98 357.60,50.20 C358.73,51.42 359.38,53.90 359.60,56.20 C359.82,58.50 359.47,61.67 358.90,64.00 C358.33,66.33 357.37,68.33 356.20,70.20 C355.03,72.07 353.47,73.57 351.90,75.20 C350.33,76.83 348.65,78.68 346.80,80.00 C344.95,81.32 342.97,82.28 340.80,83.10 C338.63,83.92 336.02,84.55 333.80,84.90 C331.58,85.25 329.33,85.68 327.50,85.20 C325.67,84.72 323.72,83.67 322.80,82.00 C321.88,80.33 321.87,77.15 322.00,75.20 C322.13,73.25 322.75,71.98 323.60,70.30 C324.45,68.62 325.73,66.82 327.10,65.10 C328.47,63.38 330.18,61.62 331.80,60.00 C333.42,58.38 335.08,56.75 336.80,55.40 C338.52,54.05 340.35,52.85 342.10,51.90 C343.85,50.95 345.52,50.20 347.30,49.70 C349.08,49.20 351.08,48.82 352.80,48.90Z" fill="#000" fill-opacity="0.000" stroke="#000" stroke-opacity="0.9" stroke-width="0.5"/>
<path d="M352.29,49.87 C353.86,49.94 355.64,49.94 356.68,51.06 C357.71,52.17 358.30,54.43 358.50,56.53 C358.70,58.63 358.39,61.51 357.86,63.65 C357.34,65.79 356.49,67.57 355.35,69.35 C354.21,71.13 352.59,72.69 351.02,74.32 C349.45,75.95 347.74,77.82 345.94,79.14 C344.13,80.45 342.23,81.43 340.21,82.22 C338.19,83.01 335.84,83.54 333.82,83.86 C331.79,84.18 329.74,84.58 328.07,84.14 C326.39,83.69 324.61,82.74 323.78,81.21 C322.94,79.69 322.93,76.79 323.05,75.01 C323.17,73.23 323.72,72.08 324.51,70.54 C325.29,68.99 326.42,67.39 327.75,65.75 C329.07,64.10 330.85,62.28 332.46,60.66 C334.08,59.05 335.77,57.39 337.45,56.05 C339.12,54.70 340.89,53.51 342.53,52.61 C344.17,51.70 345.65,51.06 347.27,50.60 C348.90,50.14 350.73,49.79 352.29,49.87Z" fill="#000" fill-opacity="0.000" stroke="#000" stroke-opacity="0.9" stroke-width="0.5"/>
<path d="M351.92,50.59 C353.37,50.66 355.03,50.66 355.99,51.69 C356.95,52.72 357.50,54.83 357.69,56.78 C357.87,58.73 357.59,61.40 357.09,63.39 C356.60,65.38 355.85,67.01 354.73,68.73 C353.61,70.44 351.94,72.04 350.37,73.67 C348.80,75.30 347.06,77.18 345.30,78.50 C343.53,79.81 341.68,80.80 339.77,81.57 C337.86,82.33 335.71,82.80 333.83,83.09 C331.95,83.39 330.04,83.76 328.49,83.35 C326.93,82.94 325.28,82.05 324.50,80.63 C323.72,79.22 323.71,76.52 323.82,74.87 C323.94,73.21 324.45,72.15 325.18,70.71 C325.91,69.27 326.93,67.82 328.22,66.22 C329.52,64.63 331.34,62.77 332.95,61.15 C334.57,59.54 336.28,57.86 337.92,56.52 C339.57,55.19 341.29,54.01 342.84,53.13 C344.40,52.25 345.74,51.69 347.25,51.26 C348.77,50.84 350.46,50.52 351.92,50.59Z" fill="#000" fill-opacity="0.000" stroke="#000" stroke-opacity="0.9" stroke-width="0.5"/>
<path d="M351.36,51.27 C352.70,51.29 354.31,51.45 355.26,52.35 C356.21,53.24 356.94,54.78 357.06,56.63 C357.18,58.48 356.50,61.56 355.99,63.45 C355.47,65.33 354.92,66.33 353.96,67.94 C352.99,69.54 351.70,71.40 350.21,73.06 C348.72,74.72 346.79,76.63 345.01,77.90 C343.22,79.17 341.33,79.88 339.49,80.68 C337.65,81.48 335.72,82.35 333.96,82.71 C332.19,83.07 330.33,83.34 328.89,82.84 C327.44,82.35 325.99,81.08 325.30,79.74 C324.61,78.40 324.69,76.36 324.74,74.82 C324.79,73.27 324.91,71.83 325.62,70.47 C326.32,69.10 327.64,68.06 328.97,66.63 C330.29,65.21 331.99,63.47 333.58,61.92 C335.18,60.37 336.96,58.66 338.54,57.31 C340.11,55.97 341.60,54.70 343.04,53.86 C344.48,53.01 345.80,52.67 347.19,52.23 C348.58,51.80 350.01,51.25 351.36,51.27Z" fill="#000" fill-opacity="0.100" stroke="#000" stroke-opacity="0.9" stroke-width="0.5"/>
<path d="M351.61,51.47 C352.83,51.54 353.62,51.59 354.47,52.54 C355.32,53.48 356.45,55.44 356.69,57.15 C356.92,58.85 356.37,61.03 355.87,62.76 C355.36,64.49 354.77,65.89 353.64,67.53 C352.51,69.17 350.67,70.92 349.11,72.62 C347.54,74.32 345.91,76.38 344.26,77.75 C342.60,79.11 340.85,80.07 339.17,80.81 C337.48,81.56 335.81,82.05 334.17,82.19 C332.54,82.34 330.72,82.03 329.37,81.67 C328.03,81.31 326.73,81.20 326.09,80.04 C325.45,78.87 325.46,76.23 325.54,74.68 C325.61,73.13 325.91,72.01 326.54,70.75 C327.18,69.49 328.18,68.65 329.36,67.12 C330.53,65.60 332.00,63.17 333.62,61.62 C335.24,60.06 337.51,59.02 339.08,57.80 C340.64,56.58 341.68,55.26 343.03,54.31 C344.37,53.37 345.71,52.58 347.14,52.11 C348.57,51.64 350.39,51.40 351.61,51.47Z" fill="#000" fill-opacity="0.100" stroke="#000" stroke-opacity="0.9" stroke-width="0.5"/>
<path d="M350.77,52.67 C352.01,52.62 353.78,52.15 354.60,52.87 C355.43,53.58 355.60,55.35 355.72,56.97 C355.85,58.59 355.72,60.80 355.34,62.57 C354.97,64.34 354.60,65.94 353.49,67.59 C352.39,69.24 350.39,71.02 348.73,72.50 C347.06,73.98 345.15,75.31 343.49,76.47 C341.83,77.63 340.40,78.70 338.74,79.46 C337.09,80.22 335.09,80.79 333.58,81.05 C332.06,81.31 330.94,81.27 329.66,81.02 C328.38,80.76 326.58,80.52 325.91,79.50 C325.23,78.49 325.39,76.35 325.62,74.94 C325.84,73.53 326.63,72.28 327.27,71.04 C327.90,69.79 328.22,68.88 329.40,67.46 C330.58,66.04 332.71,64.09 334.34,62.49 C335.97,60.89 337.57,59.19 339.20,57.85 C340.82,56.52 342.74,55.25 344.07,54.47 C345.39,53.69 346.02,53.47 347.14,53.17 C348.26,52.87 349.53,52.72 350.77,52.67Z" fill="#000" fill-opacity="0.100" stroke="#000" stroke-opacity="0.9" stroke-width="0.5"/>
<path d="M350.42,52.76 C351.57,52.78 353.43,53.08 354.20,53.81 C354.97,54.53 355.00,55.63 355.04,57.10 C355.08,58.57 354.94,61.01 354.46,62.62 C353.98,64.23 353.19,65.36 352.17,66.77 C351.15,68.18 349.83,69.49 348.36,71.08 C346.88,72.68 344.95,74.98 343.31,76.34 C341.66,77.71 340.03,78.52 338.49,79.26 C336.95,80.00 335.60,80.61 334.08,80.78 C332.56,80.96 330.57,80.57 329.40,80.30 C328.23,80.03 327.62,80.16 327.07,79.17 C326.53,78.18 326.07,75.70 326.14,74.35 C326.21,73.01 326.91,72.23 327.50,71.11 C328.09,69.99 328.51,68.99 329.67,67.62 C330.83,66.25 332.84,64.48 334.45,62.88 C336.06,61.27 337.69,59.40 339.31,57.98 C340.93,56.57 342.84,55.10 344.16,54.39 C345.49,53.68 346.22,53.97 347.26,53.70 C348.30,53.43 349.26,52.74 350.42,52.76Z" fill="#000" fill-opacity="0.100" stroke="#000" stroke-opacity="0.9" stroke-width="0.5"/>
<path d="M350.20,53.20 C351.29,53.22 352.89,53.23 353.53,53.98 C354.17,54.73 353.95,56.38 354.06,57.70 C354.17,59.03 354.53,60.54 354.18,61.93 C353.84,63.31 353.01,64.50 352.00,66.01 C350.98,67.52 349.58,69.39 348.09,70.98 C346.60,72.57 344.79,74.21 343.08,75.56 C341.36,76.91 339.28,78.35 337.81,79.08 C336.35,79.81 335.61,79.81 334.29,79.92 C332.97,80.04 331.04,80.08 329.90,79.75 C328.76,79.42 327.90,78.80 327.47,77.95 C327.03,77.10 327.27,75.77 327.29,74.64 C327.31,73.52 327.04,72.24 327.57,71.18 C328.10,70.13 329.20,69.68 330.49,68.31 C331.77,66.94 333.77,64.66 335.27,62.98 C336.77,61.31 337.95,59.57 339.47,58.24 C341.00,56.92 343.18,55.74 344.44,55.01 C345.69,54.28 346.05,54.18 347.01,53.88 C347.98,53.57 349.11,53.18 350.20,53.20Z" fill="#000" fill-opacity="0.100" stroke="#000" stroke-opacity="0.9" stroke-width="0.5"/>
<path d="M350.04,53.91 C351.01,53.89 352.65,53.58 353.18,54.33 C353.72,55.09 353.14,57.04 353.25,58.44 C353.36,59.83 354.10,61.40 353.84,62.69 C353.57,63.99 352.68,64.97 351.66,66.23 C350.64,67.49 349.27,68.67 347.74,70.27 C346.22,71.86 344.16,74.44 342.51,75.81 C340.86,77.18 339.32,77.90 337.85,78.47 C336.37,79.04 334.94,79.14 333.66,79.24 C332.38,79.35 331.13,79.38 330.19,79.11 C329.26,78.84 328.44,78.52 328.06,77.62 C327.67,76.72 327.74,74.66 327.87,73.69 C328.00,72.71 328.32,72.55 328.83,71.76 C329.35,70.97 329.82,70.31 330.97,68.94 C332.13,67.58 334.29,65.23 335.74,63.58 C337.19,61.94 338.30,60.44 339.67,59.08 C341.05,57.72 342.72,56.18 344.00,55.41 C345.27,54.64 346.33,54.72 347.34,54.47 C348.35,54.22 349.07,53.94 350.04,53.91Z" fill="#000" fill-opacity="0.100" stroke="#000" stroke-opacity="0.9" stroke-width="0.5"/>
<path d="M349.77,55.02 C350.71,55.03 351.84,54.39 352.37,54.98 C352.89,55.56 352.86,57.32 352.94,58.54 C353.02,59.76 353.16,61.23 352.85,62.30 C352.55,63.37 352.12,63.58 351.12,64.94 C350.12,66.31 348.47,68.75 346.85,70.48 C345.24,72.21 342.91,74.02 341.41,75.33 C339.91,76.64 339.03,77.84 337.84,78.34 C336.65,78.84 335.42,78.13 334.27,78.31 C333.12,78.50 331.99,79.63 330.94,79.44 C329.88,79.26 328.47,78.07 327.95,77.18 C327.43,76.30 327.67,75.04 327.81,74.12 C327.94,73.19 328.21,72.61 328.77,71.64 C329.33,70.66 330.10,69.64 331.16,68.27 C332.22,66.90 333.64,65.02 335.13,63.42 C336.63,61.81 338.45,59.82 340.11,58.65 C341.78,57.48 344.03,57.03 345.13,56.41 C346.22,55.78 345.90,55.15 346.67,54.91 C347.45,54.68 348.82,55.01 349.77,55.02Z" fill="#000" fill-opacity="0.100" stroke="#000" stroke-opacity="0.9" stroke-width="0.5"/>
<path d="M349.39,54.79 C350.04,54.88 351.02,55.22 351.59,55.77 C352.15,56.33 352.70,57.15 352.77,58.13 C352.83,59.10 352.37,60.46 351.98,61.59 C351.58,62.73 351.30,63.60 350.41,64.93 C349.52,66.25 348.22,67.98 346.63,69.52 C345.03,71.06 342.47,72.81 340.85,74.16 C339.23,75.52 338.00,76.99 336.90,77.66 C335.80,78.34 335.16,78.04 334.25,78.20 C333.34,78.37 332.33,78.85 331.44,78.63 C330.55,78.41 329.36,77.63 328.88,76.89 C328.41,76.16 328.54,75.04 328.60,74.23 C328.66,73.42 328.81,72.91 329.23,72.02 C329.65,71.13 329.99,70.13 331.13,68.87 C332.26,67.60 334.49,66.00 336.03,64.42 C337.57,62.84 338.91,60.65 340.36,59.38 C341.81,58.12 343.49,57.51 344.71,56.81 C345.93,56.12 346.88,55.56 347.66,55.22 C348.44,54.88 348.73,54.70 349.39,54.79Z" fill="#000" fill-opacity="0.100" stroke="#000" stroke-opacity="0.9" stroke-width="0.5"/>
<path d="M349.85,55.86 C350.45,55.97 350.71,55.48 351.00,55.98 C351.30,56.48 351.47,57.83 351.64,58.85 C351.81,59.87 352.17,61.14 352.03,62.11 C351.89,63.07 351.77,63.45 350.80,64.65 C349.83,65.85 347.95,67.71 346.22,69.31 C344.49,70.91 342.10,73.00 340.42,74.23 C338.74,75.45 337.17,76.15 336.14,76.65 C335.11,77.16 335.14,77.13 334.26,77.26 C333.38,77.39 331.57,77.62 330.85,77.45 C330.13,77.28 330.32,76.77 329.93,76.25 C329.54,75.73 328.64,74.97 328.53,74.32 C328.43,73.67 328.78,73.07 329.31,72.33 C329.84,71.60 330.45,71.20 331.71,69.92 C332.98,68.63 335.24,66.40 336.88,64.61 C338.52,62.83 340.16,60.53 341.57,59.22 C342.98,57.90 344.38,57.37 345.35,56.73 C346.32,56.08 346.64,55.47 347.39,55.33 C348.14,55.18 349.25,55.75 349.85,55.86Z" fill="#000" fill-opacity="0.100" stroke="#000" stroke-opacity="0.9" stroke-width="0.5"/>
<path d="M349.43,56.54 C349.97,56.48 349.91,55.80 350.28,56.21 C350.65,56.63 351.54,58.24 351.66,59.05 C351.78,59.85 351.31,60.18 350.98,61.04 C350.66,61.89 350.56,62.90 349.70,64.17 C348.84,65.44 347.39,67.10 345.83,68.66 C344.27,70.22 341.91,72.24 340.32,73.56 C338.73,74.88 337.43,75.93 336.27,76.56 C335.12,77.19 334.06,77.19 333.39,77.32 C332.72,77.45 332.78,77.56 332.26,77.32 C331.73,77.07 330.65,76.36 330.26,75.83 C329.86,75.30 329.86,74.76 329.89,74.13 C329.92,73.50 330.13,72.73 330.45,72.04 C330.77,71.35 330.67,71.28 331.79,70.00 C332.91,68.72 335.63,65.98 337.16,64.39 C338.69,62.79 339.55,61.65 340.99,60.44 C342.42,59.22 344.76,57.73 345.76,57.08 C346.77,56.43 346.42,56.64 347.03,56.55 C347.65,56.45 348.89,56.59 349.43,56.54Z" fill="#000" fill-opacity="0.100" stroke="#000" stroke-opacity="0.9" stroke-width="0.5"/>
<path d="M348.44,56.12 C348.87,56.07 349.60,56.59 350.00,56.97 C350.39,57.35 350.61,57.60 350.79,58.42 C350.97,59.24 351.32,60.98 351.08,61.90 C350.83,62.81 350.36,62.73 349.34,63.89 C348.32,65.05 346.48,67.34 344.96,68.85 C343.43,70.36 341.72,71.84 340.19,72.96 C338.66,74.09 336.85,74.98 335.80,75.60 C334.75,76.21 334.63,76.47 333.91,76.66 C333.19,76.85 332.10,76.79 331.47,76.73 C330.85,76.66 330.47,76.65 330.17,76.26 C329.87,75.87 329.59,75.03 329.67,74.37 C329.75,73.70 330.23,72.90 330.64,72.27 C331.04,71.64 330.96,71.75 332.08,70.58 C333.21,69.41 335.78,66.88 337.40,65.24 C339.02,63.60 340.38,62.05 341.80,60.72 C343.22,59.39 344.97,57.83 345.91,57.27 C346.84,56.70 346.99,57.51 347.41,57.32 C347.83,57.13 348.01,56.18 348.44,56.12Z" fill="#000" fill-opacity="0.100" stroke="#000" stroke-opacity="0.9" stroke-width="0.5"/>
<path d="M348.57,56.52 C348.98,56.68 349.23,57.06 349.59,57.57 C349.96,58.08 350.56,59.05 350.77,59.58 C350.97,60.11 351.15,60.21 350.82,60.76 C350.49,61.31 349.88,61.62 348.78,62.87 C347.68,64.12 345.65,66.49 344.22,68.24 C342.79,70.00 341.61,72.08 340.17,73.43 C338.72,74.77 336.64,75.87 335.56,76.33 C334.48,76.80 334.19,76.30 333.68,76.22 C333.17,76.13 333.07,75.87 332.50,75.83 C331.94,75.79 330.66,76.38 330.30,75.98 C329.94,75.58 330.20,74.00 330.36,73.41 C330.51,72.83 330.98,73.03 331.21,72.49 C331.44,71.96 330.75,71.37 331.74,70.20 C332.74,69.03 335.52,67.01 337.19,65.46 C338.85,63.90 340.21,62.16 341.73,60.85 C343.24,59.54 345.37,58.29 346.27,57.58 C347.17,56.87 346.76,56.77 347.15,56.59 C347.53,56.41 348.17,56.36 348.57,56.52Z" fill="#000" fill-opacity="0.100" stroke="#000" stroke-opacity="0.9" stroke-width="0.5"/>
<path d="M348.06,57.59 C348.41,57.65 348.54,58.07 348.97,58.22 C349.39,58.38 350.35,58.08 350.60,58.51 C350.85,58.93 350.71,59.99 350.48,60.77 C350.25,61.55 350.30,62.02 349.21,63.19 C348.12,64.36 345.57,66.18 343.95,67.80 C342.33,69.42 340.93,71.58 339.48,72.91 C338.04,74.23 336.09,75.25 335.28,75.78 C334.47,76.31 335.08,76.16 334.62,76.09 C334.16,76.02 333.05,75.54 332.50,75.35 C331.95,75.16 331.49,75.19 331.32,74.93 C331.15,74.67 331.40,74.29 331.45,73.78 C331.50,73.28 331.37,72.37 331.62,71.89 C331.86,71.42 332.03,71.85 332.95,70.92 C333.86,70.00 335.50,68.09 337.12,66.35 C338.74,64.61 341.10,61.96 342.66,60.49 C344.22,59.02 345.76,57.99 346.46,57.55 C347.15,57.11 346.56,57.86 346.83,57.86 C347.09,57.87 347.70,57.53 348.06,57.59Z" fill="#000" fill-opacity="0.100" stroke="#000" stroke-opacity="0.9" stroke-width="0.5"/>
<path d="M348.30,57.88 C348.69,57.83 349.17,57.85 349.32,57.99 C349.48,58.14 349.32,58.24 349.22,58.76 C349.11,59.28 348.78,60.50 348.71,61.12 C348.64,61.74 349.56,61.52 348.80,62.49 C348.05,63.46 345.92,65.36 344.20,66.93 C342.49,68.50 339.89,70.66 338.51,71.89 C337.13,73.12 336.66,73.80 335.91,74.31 C335.15,74.83 334.43,74.83 333.97,74.98 C333.50,75.13 333.52,75.26 333.12,75.20 C332.71,75.14 331.77,74.86 331.53,74.64 C331.29,74.41 331.65,74.12 331.68,73.84 C331.72,73.57 331.59,73.51 331.72,72.99 C331.85,72.46 331.52,71.93 332.45,70.69 C333.38,69.44 335.51,67.02 337.29,65.51 C339.08,64.01 341.77,62.94 343.15,61.67 C344.53,60.41 344.93,58.49 345.56,57.93 C346.19,57.37 346.48,58.33 346.93,58.32 C347.39,58.32 347.90,57.94 348.30,57.88Z" fill="#000" fill-opacity="0.100" stroke="#000" stroke-opacity="0.9" stroke-width="0.5"/>
<path d="M348.41,58.63 C348.82,58.55 348.75,57.85 348.82,57.90 C348.89,57.95 348.82,58.45 348.84,58.92 C348.86,59.40 349.14,60.29 348.93,60.74 C348.72,61.19 348.42,60.77 347.57,61.65 C346.73,62.53 345.32,64.24 343.88,66.01 C342.44,67.78 340.29,70.87 338.94,72.27 C337.59,73.67 336.59,73.96 335.77,74.42 C334.96,74.87 334.48,74.80 334.05,75.01 C333.62,75.22 333.43,75.82 333.18,75.67 C332.92,75.52 332.60,74.51 332.52,74.11 C332.43,73.72 332.66,73.52 332.66,73.32 C332.66,73.13 332.53,73.19 332.51,72.92 C332.49,72.66 331.57,72.84 332.56,71.75 C333.55,70.66 336.70,68.08 338.45,66.38 C340.20,64.69 341.85,62.84 343.07,61.57 C344.28,60.30 345.20,59.30 345.75,58.76 C346.29,58.23 345.89,58.39 346.33,58.37 C346.77,58.35 347.99,58.71 348.41,58.63Z" fill="#000" fill-opacity="0.100" stroke="#000" stroke-opacity="0.9" stroke-width="0.5"/>
<path d="M347.92,58.59 C348.24,58.72 348.17,59.51 348.37,59.57 C348.57,59.63 349.04,58.78 349.13,58.96 C349.21,59.15 349.25,60.26 348.88,60.67 C348.52,61.08 347.98,60.60 346.93,61.43 C345.89,62.26 344.08,63.91 342.62,65.67 C341.15,67.43 339.49,70.44 338.14,71.97 C336.79,73.49 335.17,74.48 334.53,74.79 C333.88,75.11 334.41,73.86 334.29,73.83 C334.17,73.80 333.96,74.52 333.80,74.61 C333.64,74.71 333.49,74.68 333.35,74.42 C333.21,74.15 332.97,73.19 332.96,73.01 C332.94,72.84 333.05,73.62 333.25,73.37 C333.46,73.12 333.26,72.64 334.20,71.52 C335.14,70.40 337.49,68.39 338.91,66.67 C340.32,64.95 341.56,62.54 342.69,61.19 C343.83,59.84 345.11,58.96 345.74,58.56 C346.37,58.15 346.13,58.76 346.49,58.77 C346.86,58.78 347.61,58.46 347.92,58.59Z" fill="#000" fill-opacity="0.100" stroke="#000" stroke-opacity="0.9" stroke-width="0.5"/>
<path d="M347.79,59.17 C347.85,59.34 347.74,59.38 347.72,59.46 C347.70,59.54 347.58,59.52 347.69,59.64 C347.80,59.75 348.53,59.77 348.38,60.16 C348.22,60.54 347.64,61.01 346.75,61.94 C345.86,62.86 344.56,64.23 343.02,65.73 C341.47,67.24 338.86,69.67 337.48,70.94 C336.09,72.21 335.42,72.93 334.70,73.35 C333.98,73.77 333.29,73.47 333.16,73.47 C333.04,73.48 333.97,73.43 333.95,73.39 C333.93,73.35 333.27,73.34 333.04,73.22 C332.81,73.09 332.57,72.80 332.56,72.63 C332.56,72.47 332.91,72.46 333.01,72.24 C333.10,72.01 332.26,72.14 333.13,71.26 C334.00,70.39 336.62,68.62 338.24,66.98 C339.87,65.34 341.50,62.72 342.88,61.42 C344.26,60.12 345.78,59.70 346.52,59.20 C347.27,58.70 347.15,58.44 347.36,58.44 C347.57,58.43 347.73,59.00 347.79,59.17Z" fill="#000" fill-opacity="0.100" stroke="#000" stroke-opacity="0.9" stroke-width="0.5"/>
<ellipse cx="340.5" cy="67.5" rx="1.8" ry="1.0" transform="rotate(-40 340.5 67.5)" fill="#fff" fill-opacity="0.75"/>
<ellipse cx="344" cy="62.5" rx="1.0" ry="0.6" transform="rotate(-40 344 62.5)" fill="#fff" fill-opacity="0.5"/>
<ellipse cx="334.5" cy="72.5" rx="1.2" ry="0.6" transform="rotate(-40 334.5 72.5)" fill="#fff" fill-opacity="0.4"/>
<path d="M353.00,47.40 C354.65,47.32 356.07,47.55 357.20,48.20 C358.33,48.85 359.17,49.90 359.80,51.30 C360.43,52.70 360.90,54.45 361.00,56.60 C361.10,58.75 360.93,61.87 360.40,64.20 C359.87,66.53 359.00,68.65 357.80,70.60 C356.60,72.55 354.80,74.17 353.20,75.90 C351.60,77.63 350.13,79.62 348.20,81.00 C346.27,82.38 343.97,83.37 341.60,84.20 C339.23,85.03 336.32,85.57 334.00,86.00 C331.68,86.43 329.63,87.20 327.70,86.80 C325.77,86.40 323.62,85.47 322.40,83.60 C321.18,81.73 320.62,77.80 320.40,75.60 C320.18,73.40 320.35,72.12 321.10,70.40 C321.85,68.68 323.42,67.02 324.90,65.30 C326.38,63.58 328.28,61.82 330.00,60.10 C331.72,58.38 333.28,56.48 335.20,55.00 C337.12,53.52 339.48,52.25 341.50,51.20 C343.52,50.15 345.38,49.33 347.30,48.70 C349.22,48.07 351.35,47.48 353.00,47.40Z" fill="none" stroke="#000" stroke-width="1.8" stroke-dasharray="0.1 3.45" stroke-linecap="round"/>
<path d="M364.4,53.6 C364,51.6 366.2,48.4 368.6,46.9 C370.9,45.4 373.8,45.9 374.5,48.8 C375.1,51.4 372.4,53.9 370,55.2 C367.6,56.5 364.9,55.8 364.4,53.6Z" fill="none" stroke="#111" stroke-width="0.75"/><path d="M369.2,51.2 L370.4,48.9 L371.5,51.2Z" fill="#666" stroke="#444" stroke-width="0.4"/>
<path d="M428.00,72.90 C428.37,71.08 428.93,69.98 430.90,68.50 C432.87,67.02 435.85,65.98 439.80,64.00 C443.75,62.02 449.67,59.07 454.60,56.60 C459.53,54.13 464.97,51.28 469.40,49.20 C473.83,47.12 478.23,44.87 481.20,44.10 C484.17,43.33 485.83,43.75 487.20,44.60 C488.57,45.45 489.40,47.43 489.40,49.20 C489.40,50.97 488.57,53.47 487.20,55.20 C485.83,56.93 484.17,57.38 481.20,59.60 C478.23,61.82 472.85,66.03 469.40,68.50 C465.95,70.97 463.47,72.68 460.50,74.40 C457.53,76.12 454.32,77.60 451.60,78.80 C448.88,80.00 447.15,81.02 444.20,81.60 C441.25,82.18 436.48,82.67 433.90,82.30 C431.32,81.93 429.68,80.97 428.70,79.40 C427.72,77.83 427.63,74.72 428.00,72.90Z" fill="#000" fill-opacity="0.000" stroke="#000" stroke-opacity="0.95" stroke-width="0.5"/>
<path d="M428.63,73.12 C428.96,71.49 429.33,70.58 431.25,69.17 C433.17,67.76 436.20,66.65 440.14,64.66 C444.09,62.67 450.00,59.71 454.93,57.24 C459.86,54.76 465.30,51.92 469.72,49.81 C474.14,47.71 478.62,45.42 481.47,44.63 C484.33,43.84 485.64,44.31 486.86,45.06 C488.09,45.82 488.83,47.60 488.83,49.18 C488.83,50.76 488.20,52.94 486.86,54.55 C485.52,56.16 483.80,56.68 480.81,58.84 C477.81,61.00 472.37,65.10 468.89,67.51 C465.41,69.92 462.91,71.60 459.93,73.31 C456.96,75.01 453.75,76.51 451.04,77.73 C448.33,78.94 446.54,79.98 443.69,80.61 C440.83,81.25 436.32,81.81 433.91,81.53 C431.51,81.25 430.14,80.34 429.26,78.94 C428.38,77.53 428.30,74.75 428.63,73.12Z" fill="#000" fill-opacity="0.110" stroke="#000" stroke-opacity="0.95" stroke-width="0.5"/>
<path d="M429.10,73.29 C429.41,71.80 429.63,71.03 431.51,69.67 C433.39,68.32 436.46,67.15 440.40,65.15 C444.34,63.16 450.25,60.19 455.18,57.71 C460.10,55.23 465.54,52.38 469.96,50.27 C474.37,48.15 478.90,45.83 481.68,45.02 C484.45,44.21 485.49,44.72 486.61,45.41 C487.73,46.10 488.41,47.72 488.41,49.16 C488.41,50.61 487.93,52.54 486.61,54.06 C485.29,55.58 483.53,56.16 480.51,58.28 C477.50,60.40 472.01,64.41 468.51,66.78 C465.00,69.15 462.49,70.80 459.51,72.50 C456.53,74.19 453.33,75.70 450.63,76.93 C447.93,78.16 446.09,79.21 443.31,79.88 C440.52,80.55 436.19,81.17 433.92,80.96 C431.65,80.75 430.48,79.87 429.67,78.59 C428.87,77.31 428.80,74.77 429.10,73.29Z" fill="#000" fill-opacity="0.110" stroke="#000" stroke-opacity="0.95" stroke-width="0.5"/>
<path d="M429.63,73.65 C429.89,72.30 430.14,71.79 432.00,70.51 C433.87,69.23 437.01,68.04 440.84,65.97 C444.67,63.90 450.03,60.63 454.98,58.11 C459.93,55.58 466.02,52.99 470.56,50.81 C475.10,48.63 479.58,45.91 482.22,45.03 C484.85,44.14 485.38,44.79 486.36,45.49 C487.34,46.19 488.14,47.90 488.07,49.21 C488.00,50.53 487.29,51.89 485.95,53.38 C484.62,54.86 482.98,56.07 480.05,58.14 C477.13,60.22 471.84,63.60 468.40,65.82 C464.96,68.04 462.40,69.77 459.39,71.45 C456.39,73.12 453.17,74.53 450.36,75.88 C447.55,77.23 445.30,78.83 442.52,79.55 C439.74,80.27 435.68,80.35 433.67,80.19 C431.66,80.04 431.15,79.70 430.47,78.61 C429.80,77.52 429.38,75.00 429.63,73.65Z" fill="#000" fill-opacity="0.110" stroke="#000" stroke-opacity="0.95" stroke-width="0.5"/>
<path d="M429.72,74.01 C430.06,72.75 430.19,71.97 432.00,70.71 C433.81,69.45 436.60,68.38 440.56,66.43 C444.53,64.47 450.76,61.57 455.79,58.98 C460.82,56.38 466.39,53.13 470.74,50.87 C475.09,48.60 479.38,46.26 481.90,45.38 C484.42,44.50 484.91,44.95 485.84,45.59 C486.77,46.24 487.51,47.93 487.49,49.23 C487.46,50.53 486.97,52.08 485.70,53.39 C484.43,54.71 482.78,55.10 479.85,57.12 C476.92,59.14 471.69,63.16 468.14,65.49 C464.60,67.81 461.61,69.46 458.60,71.07 C455.59,72.67 452.68,73.94 450.10,75.12 C447.52,76.30 445.75,77.29 443.09,78.15 C440.44,79.01 436.36,80.28 434.17,80.29 C431.98,80.31 430.68,79.31 429.94,78.27 C429.19,77.22 429.37,75.27 429.72,74.01Z" fill="#000" fill-opacity="0.110" stroke="#000" stroke-opacity="0.95" stroke-width="0.5"/>
<path d="M430.16,73.78 C430.39,72.63 429.91,71.63 431.67,70.48 C433.43,69.33 436.75,68.75 440.73,66.86 C444.70,64.98 450.45,61.67 455.49,59.17 C460.54,56.67 466.57,54.09 470.99,51.87 C475.41,49.65 479.53,46.75 482.04,45.86 C484.54,44.98 485.19,45.97 486.00,46.56 C486.82,47.15 486.90,48.27 486.94,49.38 C486.99,50.48 487.54,51.88 486.27,53.20 C485.00,54.52 482.49,55.38 479.30,57.30 C476.11,59.23 470.58,62.50 467.12,64.76 C463.67,67.02 461.50,69.10 458.55,70.86 C455.60,72.62 452.11,74.17 449.41,75.33 C446.72,76.50 444.99,77.19 442.38,77.83 C439.77,78.47 435.77,79.26 433.75,79.18 C431.74,79.11 430.90,78.26 430.30,77.36 C429.70,76.46 429.93,74.93 430.16,73.78Z" fill="#000" fill-opacity="0.110" stroke="#000" stroke-opacity="0.95" stroke-width="0.5"/>
<path d="M430.86,74.36 C430.93,73.27 430.19,72.10 432.00,70.84 C433.82,69.58 437.79,68.79 441.77,66.81 C445.75,64.84 451.04,61.44 455.89,58.99 C460.73,56.54 466.44,54.25 470.84,52.12 C475.24,50.00 479.89,47.08 482.30,46.23 C484.71,45.37 484.61,46.51 485.31,46.99 C486.01,47.47 486.37,48.26 486.51,49.10 C486.65,49.95 487.26,50.77 486.14,52.07 C485.02,53.37 482.92,54.80 479.79,56.90 C476.67,59.00 471.07,62.53 467.39,64.67 C463.70,66.81 460.78,68.08 457.69,69.74 C454.61,71.41 451.52,73.39 448.88,74.66 C446.24,75.94 444.23,76.61 441.83,77.41 C439.43,78.21 436.19,79.45 434.48,79.45 C432.77,79.45 432.16,78.25 431.55,77.41 C430.95,76.56 430.78,75.46 430.86,74.36Z" fill="#000" fill-opacity="0.110" stroke="#000" stroke-opacity="0.95" stroke-width="0.5"/>
<path d="M430.99,74.21 C431.16,73.24 430.81,72.70 432.54,71.46 C434.26,70.21 437.41,68.62 441.32,66.74 C445.24,64.86 451.02,62.60 456.03,60.18 C461.05,57.77 467.02,54.55 471.44,52.25 C475.85,49.96 480.22,47.37 482.50,46.42 C484.78,45.47 484.38,46.02 485.13,46.54 C485.89,47.06 486.97,48.54 487.02,49.52 C487.07,50.50 486.66,51.31 485.43,52.43 C484.20,53.55 482.69,54.28 479.64,56.22 C476.59,58.17 470.82,61.90 467.15,64.11 C463.48,66.31 460.72,67.85 457.65,69.44 C454.57,71.04 451.30,72.40 448.70,73.69 C446.10,74.97 444.57,76.22 442.07,77.13 C439.57,78.04 435.47,79.13 433.72,79.16 C431.96,79.18 431.98,78.12 431.52,77.29 C431.07,76.47 430.82,75.18 430.99,74.21Z" fill="#000" fill-opacity="0.110" stroke="#000" stroke-opacity="0.95" stroke-width="0.5"/>
<path d="M430.75,74.12 C430.85,73.36 430.64,73.30 432.45,72.26 C434.25,71.22 437.56,69.87 441.57,67.88 C445.59,65.89 451.64,62.87 456.53,60.32 C461.42,57.78 466.50,54.78 470.90,52.61 C475.30,50.44 480.54,48.14 482.93,47.28 C485.32,46.42 484.59,47.12 485.24,47.46 C485.89,47.80 486.72,48.51 486.84,49.31 C486.96,50.12 487.26,51.25 485.98,52.30 C484.70,53.36 482.42,53.73 479.14,55.63 C475.86,57.53 469.81,61.53 466.29,63.69 C462.77,65.85 460.92,66.98 458.02,68.60 C455.12,70.22 451.59,72.16 448.88,73.39 C446.17,74.62 444.20,75.17 441.77,75.99 C439.33,76.82 435.95,78.19 434.29,78.34 C432.64,78.48 432.44,77.56 431.85,76.86 C431.26,76.16 430.65,74.89 430.75,74.12Z" fill="#000" fill-opacity="0.110" stroke="#000" stroke-opacity="0.95" stroke-width="0.5"/>
<path d="M431.82,74.53 C432.10,73.79 431.54,73.87 433.10,72.68 C434.67,71.50 437.31,69.45 441.20,67.41 C445.09,65.38 451.50,62.89 456.45,60.49 C461.40,58.09 466.48,55.31 470.90,52.99 C475.31,50.67 480.57,47.59 482.96,46.58 C485.34,45.57 484.78,46.61 485.21,46.94 C485.64,47.28 485.57,47.94 485.54,48.62 C485.50,49.29 486.17,50.01 485.00,51.01 C483.83,52.01 481.63,52.68 478.52,54.61 C475.42,56.55 469.91,60.36 466.38,62.62 C462.85,64.88 460.40,66.43 457.34,68.17 C454.28,69.91 450.82,71.81 448.03,73.08 C445.24,74.34 442.98,74.98 440.59,75.75 C438.20,76.53 435.20,77.49 433.68,77.72 C432.16,77.95 431.76,77.66 431.45,77.13 C431.14,76.60 431.55,75.27 431.82,74.53Z" fill="#000" fill-opacity="0.110" stroke="#000" stroke-opacity="0.95" stroke-width="0.5"/>
<path d="M431.82,73.68 C432.06,73.02 431.56,73.16 433.26,72.21 C434.96,71.26 438.11,69.80 442.03,67.97 C445.96,66.14 451.83,63.73 456.80,61.23 C461.77,58.73 467.41,55.23 471.83,52.96 C476.26,50.69 481.17,48.60 483.35,47.62 C485.52,46.63 484.47,46.80 484.90,47.05 C485.33,47.31 485.81,48.38 485.94,49.15 C486.06,49.93 486.84,50.79 485.66,51.70 C484.48,52.61 482.02,52.96 478.85,54.62 C475.69,56.27 470.42,59.44 466.68,61.60 C462.94,63.77 459.47,65.93 456.39,67.59 C453.32,69.24 450.77,70.16 448.23,71.54 C445.68,72.93 443.53,74.92 441.13,75.89 C438.73,76.85 435.35,77.30 433.80,77.35 C432.26,77.41 432.19,76.81 431.86,76.20 C431.53,75.59 431.59,74.35 431.82,73.68Z" fill="#000" fill-opacity="0.110" stroke="#000" stroke-opacity="0.95" stroke-width="0.5"/>
<path d="M432.96,74.24 C433.17,73.82 432.37,74.67 433.92,73.66 C435.48,72.65 438.35,70.30 442.28,68.18 C446.21,66.06 452.66,63.45 457.53,60.94 C462.39,58.43 467.09,55.34 471.45,53.13 C475.82,50.92 481.55,48.58 483.74,47.68 C485.93,46.78 484.40,47.47 484.61,47.73 C484.82,47.98 484.96,48.77 485.00,49.23 C485.03,49.68 485.83,49.53 484.81,50.47 C483.80,51.41 482.17,53.00 478.90,54.89 C475.64,56.78 468.99,59.70 465.23,61.82 C461.46,63.93 459.15,66.00 456.31,67.56 C453.47,69.11 450.84,69.99 448.19,71.13 C445.53,72.27 442.64,73.45 440.38,74.39 C438.12,75.34 435.94,76.47 434.65,76.77 C433.36,77.07 432.94,76.63 432.65,76.21 C432.37,75.78 432.75,74.67 432.96,74.24Z" fill="#000" fill-opacity="0.110" stroke="#000" stroke-opacity="0.95" stroke-width="0.5"/>
<path d="M432.83,74.67 C432.91,74.21 432.16,73.88 433.81,72.86 C435.45,71.84 438.82,70.52 442.69,68.55 C446.57,66.57 452.28,63.49 457.07,61.02 C461.86,58.55 467.09,55.93 471.43,53.72 C475.78,51.51 480.87,48.68 483.15,47.75 C485.43,46.81 484.86,47.96 485.09,48.12 C485.33,48.27 484.64,48.20 484.57,48.69 C484.50,49.17 485.61,50.13 484.66,51.04 C483.71,51.95 482.17,52.35 478.88,54.13 C475.60,55.90 468.72,59.62 464.94,61.69 C461.17,63.76 459.10,64.95 456.24,66.53 C453.39,68.10 450.46,69.74 447.82,71.15 C445.19,72.56 442.76,74.09 440.42,74.99 C438.09,75.88 435.00,76.43 433.81,76.53 C432.62,76.62 433.45,75.88 433.29,75.57 C433.13,75.26 432.74,75.12 432.83,74.67Z" fill="#000" fill-opacity="0.110" stroke="#000" stroke-opacity="0.95" stroke-width="0.5"/>
<path d="M432.62,75.12 C432.56,74.75 431.27,75.26 432.97,74.25 C434.66,73.24 438.79,71.10 442.78,69.05 C446.76,67.01 451.90,64.59 456.86,61.99 C461.81,59.39 468.10,55.72 472.50,53.43 C476.91,51.15 481.29,49.19 483.30,48.28 C485.31,47.37 484.38,47.81 484.57,47.95 C484.76,48.10 484.37,48.91 484.45,49.17 C484.52,49.42 486.15,48.63 485.03,49.47 C483.91,50.30 480.92,52.25 477.72,54.18 C474.52,56.11 469.57,59.05 465.84,61.06 C462.11,63.06 458.33,64.54 455.36,66.22 C452.38,67.91 450.45,70.02 447.97,71.19 C445.50,72.36 442.75,72.45 440.51,73.23 C438.26,74.01 435.71,75.35 434.50,75.89 C433.29,76.43 433.58,76.60 433.27,76.47 C432.95,76.35 432.67,75.49 432.62,75.12Z" fill="#000" fill-opacity="0.110" stroke="#000" stroke-opacity="0.95" stroke-width="0.5"/>
<path d="M433.56,74.15 C433.57,73.98 432.04,75.47 433.46,74.72 C434.89,73.97 438.14,71.88 442.09,69.65 C446.05,67.42 452.18,64.02 457.20,61.33 C462.23,58.65 467.95,55.73 472.23,53.55 C476.50,51.37 480.93,49.23 482.85,48.27 C484.77,47.30 483.41,47.54 483.74,47.73 C484.07,47.92 484.61,49.16 484.82,49.41 C485.03,49.66 486.16,48.63 484.99,49.23 C483.83,49.84 481.11,51.19 477.83,53.04 C474.55,54.89 468.87,58.30 465.31,60.32 C461.76,62.34 459.67,63.52 456.49,65.17 C453.32,66.82 449.13,68.82 446.28,70.23 C443.44,71.65 441.46,72.59 439.41,73.65 C437.36,74.71 435.00,76.24 434.00,76.59 C432.99,76.94 433.47,76.17 433.40,75.76 C433.33,75.35 433.55,74.33 433.56,74.15Z" fill="#000" fill-opacity="0.110" stroke="#000" stroke-opacity="0.95" stroke-width="0.5"/>
<path d="M433.13,74.92 C433.00,74.78 431.94,75.74 433.55,74.78 C435.17,73.83 438.92,71.32 442.83,69.18 C446.75,67.04 452.10,64.48 457.06,61.96 C462.02,59.43 468.09,56.19 472.57,54.03 C477.05,51.86 482.11,49.81 483.94,48.96 C485.78,48.11 483.61,49.02 483.58,48.92 C483.55,48.83 483.63,48.38 483.76,48.40 C483.90,48.43 485.29,48.32 484.39,49.08 C483.49,49.83 481.67,51.07 478.37,52.95 C475.08,54.83 468.56,58.32 464.63,60.36 C460.69,62.41 457.87,63.81 454.77,65.22 C451.66,66.64 448.38,67.51 445.99,68.85 C443.61,70.19 442.53,72.26 440.46,73.28 C438.38,74.29 434.56,74.56 433.54,74.96 C432.52,75.35 434.42,75.63 434.35,75.62 C434.28,75.62 433.27,75.06 433.13,74.92Z" fill="#000" fill-opacity="0.110" stroke="#000" stroke-opacity="0.95" stroke-width="0.5"/>
<ellipse cx="448" cy="67" rx="2.2" ry="0.5" transform="rotate(-30 448 67)" fill="#fff" fill-opacity="0.7"/>
<ellipse cx="458" cy="61" rx="1.8" ry="0.5" transform="rotate(-30 458 61)" fill="#fff" fill-opacity="0.6"/>
<ellipse cx="472" cy="52" rx="1.6" ry="0.5" transform="rotate(-30 472 52)" fill="#fff" fill-opacity="0.6"/>
<ellipse cx="438" cy="73.5" rx="1.0" ry="0.6" transform="rotate(-30 438 73.5)" fill="#fff" fill-opacity="0.5"/>
<path d="M468.50,69.50 C467.33,70.38 464.50,72.46 462.00,74.40 C459.50,76.34 457.26,78.43 454.60,80.30 C451.94,82.17 449.86,83.72 447.20,84.80 C444.54,85.88 442.19,86.16 439.80,86.30 C437.41,86.44 435.65,86.46 433.90,85.60 C432.15,84.74 430.95,83.14 430.10,81.50 C429.25,79.86 429.04,78.21 429.20,76.50 C429.36,74.79 429.76,74.11 431.00,72.00 C432.24,69.89 434.25,67.16 436.10,64.80 C437.95,62.44 439.30,60.90 441.30,58.90 C443.30,56.90 444.81,55.30 447.20,53.70 C449.59,52.10 451.94,50.95 454.60,50.00 C457.26,49.05 459.50,48.65 462.00,48.40 C464.50,48.15 467.33,48.56 468.50,48.60" fill="none" stroke="#000" stroke-width="1.8" stroke-dasharray="0.1 3.45" stroke-linecap="round"/>

<path d="M319.50,187.50 C319.45,185.67 319.72,183.17 320.50,181.00 C321.28,178.83 322.75,176.63 324.20,174.50 C325.65,172.37 327.32,169.87 329.20,168.20 C331.08,166.53 333.37,165.43 335.50,164.50 C337.63,163.57 339.58,163.02 342.00,162.60 C344.42,162.18 347.60,161.87 350.00,162.00 C352.40,162.13 354.57,162.82 356.40,163.40 C358.23,163.98 359.57,164.65 361.00,165.50 C362.43,166.35 363.83,167.33 365.00,168.50 C366.17,169.67 367.40,171.15 368.00,172.50 C368.60,173.85 368.68,175.08 368.60,176.60 C368.52,178.12 368.47,180.13 367.50,181.60 C366.53,183.07 364.88,184.33 362.80,185.40 C360.72,186.47 357.63,187.15 355.00,188.00 C352.37,188.85 349.67,189.63 347.00,190.50 C344.33,191.37 341.63,192.45 339.00,193.20 C336.37,193.95 333.60,194.70 331.20,195.00 C328.80,195.30 326.33,195.50 324.60,195.00 C322.87,194.50 321.65,193.25 320.80,192.00 C319.95,190.75 319.55,189.33 319.50,187.50Z" fill="#000" fill-opacity="0.000" stroke="#000" stroke-opacity="0.88" stroke-width="0.5"/>
<path d="M320.33,187.46 C320.28,185.78 320.50,183.52 321.24,181.52 C321.99,179.53 323.35,177.50 324.80,175.48 C326.25,173.45 328.02,171.02 329.93,169.38 C331.83,167.75 334.10,166.63 336.22,165.67 C338.34,164.71 340.27,164.12 342.64,163.64 C345.01,163.16 348.16,162.71 350.44,162.79 C352.71,162.86 354.60,163.53 356.28,164.06 C357.95,164.60 359.17,165.20 360.48,165.98 C361.78,166.76 363.06,167.65 364.13,168.72 C365.19,169.78 366.32,171.14 366.87,172.37 C367.41,173.60 367.49,174.73 367.41,176.11 C367.34,177.50 367.30,179.33 366.41,180.68 C365.52,182.02 364.06,183.14 362.05,184.18 C360.04,185.23 356.94,186.03 354.34,186.92 C351.73,187.82 349.07,188.66 346.43,189.58 C343.80,190.49 341.09,191.63 338.52,192.42 C335.95,193.21 333.26,193.99 331.01,194.30 C328.75,194.62 326.57,194.76 324.98,194.30 C323.40,193.85 322.29,192.70 321.52,191.56 C320.74,190.42 320.37,189.13 320.33,187.46Z" fill="#000" fill-opacity="0.000" stroke="#000" stroke-opacity="0.88" stroke-width="0.5"/>
<path d="M320.94,187.42 C320.90,185.87 321.07,183.78 321.79,181.91 C322.51,180.04 323.80,178.15 325.25,176.20 C326.69,174.26 328.55,171.87 330.47,170.26 C332.38,168.65 334.65,167.51 336.75,166.54 C338.86,165.56 340.78,164.94 343.11,164.41 C345.45,163.88 348.58,163.34 350.76,163.37 C352.94,163.39 354.63,164.06 356.19,164.55 C357.74,165.05 358.87,165.61 360.09,166.34 C361.30,167.06 362.49,167.89 363.48,168.88 C364.47,169.87 365.52,171.13 366.03,172.27 C366.53,173.42 366.60,174.46 366.53,175.75 C366.46,177.04 366.44,178.73 365.60,179.99 C364.76,181.25 363.46,182.26 361.50,183.28 C359.54,184.31 356.43,185.19 353.85,186.13 C351.27,187.06 348.63,187.94 346.01,188.89 C343.40,189.85 340.69,191.02 338.16,191.84 C335.64,192.65 333.01,193.46 330.87,193.78 C328.72,194.11 326.74,194.21 325.27,193.78 C323.80,193.36 322.77,192.30 322.05,191.24 C321.32,190.18 320.99,188.98 320.94,187.42Z" fill="#000" fill-opacity="0.000" stroke="#000" stroke-opacity="0.88" stroke-width="0.5"/>
<path d="M321.35,187.10 C321.35,185.58 321.69,183.62 322.41,181.90 C323.14,180.17 324.32,178.55 325.68,176.74 C327.04,174.93 328.72,172.63 330.58,171.05 C332.44,169.47 334.74,168.31 336.84,167.26 C338.94,166.21 340.82,165.27 343.17,164.75 C345.53,164.24 348.88,164.17 350.99,164.17 C353.09,164.17 354.31,164.28 355.79,164.76 C357.26,165.24 358.65,166.34 359.85,167.04 C361.04,167.73 361.99,168.14 362.96,168.94 C363.94,169.73 365.16,170.75 365.67,171.80 C366.19,172.85 366.23,174.04 366.05,175.24 C365.86,176.45 365.44,177.80 364.57,179.05 C363.70,180.30 362.74,181.67 360.84,182.74 C358.93,183.81 355.65,184.57 353.13,185.48 C350.62,186.38 348.29,187.26 345.75,188.17 C343.21,189.08 340.45,190.13 337.88,190.95 C335.32,191.76 332.40,192.68 330.36,193.07 C328.33,193.45 327.01,193.60 325.68,193.26 C324.34,192.92 323.09,192.05 322.37,191.02 C321.64,190.00 321.34,188.62 321.35,187.10Z" fill="#000" fill-opacity="0.075" stroke="#000" stroke-opacity="0.88" stroke-width="0.5"/>
<path d="M321.97,187.19 C322.05,185.87 322.38,184.38 323.01,182.77 C323.65,181.16 324.39,179.31 325.79,177.53 C327.20,175.76 329.41,173.73 331.43,172.12 C333.44,170.51 335.73,168.98 337.89,167.86 C340.05,166.74 342.14,165.94 344.37,165.40 C346.59,164.86 349.36,164.61 351.25,164.61 C353.14,164.61 354.42,164.98 355.72,165.40 C357.01,165.82 357.85,166.47 359.00,167.11 C360.14,167.74 361.61,168.42 362.59,169.23 C363.58,170.03 364.47,170.94 364.90,171.94 C365.33,172.93 365.28,174.07 365.18,175.20 C365.07,176.34 364.99,177.60 364.27,178.76 C363.54,179.91 362.72,181.10 360.84,182.12 C358.96,183.14 355.63,183.92 352.97,184.89 C350.31,185.85 347.43,186.82 344.88,187.88 C342.33,188.95 340.00,190.47 337.67,191.27 C335.34,192.07 332.91,192.40 330.91,192.69 C328.91,192.98 327.06,193.38 325.66,193.04 C324.27,192.69 323.15,191.62 322.54,190.64 C321.92,189.67 321.89,188.50 321.97,187.19Z" fill="#000" fill-opacity="0.075" stroke="#000" stroke-opacity="0.88" stroke-width="0.5"/>
<path d="M322.19,186.98 C322.03,185.72 322.13,184.68 322.77,183.15 C323.41,181.62 324.54,179.52 326.03,177.80 C327.52,176.09 329.79,174.35 331.73,172.84 C333.68,171.32 335.61,169.71 337.71,168.69 C339.82,167.68 342.00,167.31 344.36,166.73 C346.72,166.14 349.99,165.36 351.88,165.19 C353.78,165.02 354.57,165.32 355.75,165.72 C356.93,166.12 357.88,167.06 358.97,167.60 C360.06,168.14 361.50,168.26 362.27,168.96 C363.04,169.65 363.29,170.80 363.58,171.77 C363.88,172.75 364.04,173.77 364.05,174.81 C364.05,175.86 364.37,177.01 363.63,178.02 C362.89,179.04 361.48,179.90 359.62,180.92 C357.76,181.94 354.85,183.09 352.48,184.16 C350.10,185.23 347.91,186.29 345.37,187.34 C342.84,188.39 339.72,189.69 337.27,190.48 C334.82,191.26 332.49,191.67 330.67,192.05 C328.86,192.42 327.52,192.96 326.37,192.74 C325.22,192.51 324.45,191.66 323.75,190.70 C323.05,189.74 322.35,188.24 322.19,186.98Z" fill="#000" fill-opacity="0.075" stroke="#000" stroke-opacity="0.88" stroke-width="0.5"/>
<path d="M322.87,187.22 C322.77,186.00 322.64,184.84 323.21,183.33 C323.78,181.82 324.83,179.92 326.29,178.17 C327.74,176.42 329.95,174.35 331.96,172.82 C333.97,171.28 336.32,170.00 338.36,168.96 C340.40,167.93 342.00,167.24 344.18,166.60 C346.36,165.97 349.56,165.16 351.43,165.16 C353.30,165.15 354.17,166.22 355.41,166.55 C356.66,166.89 357.97,166.71 358.92,167.16 C359.87,167.61 360.40,168.53 361.09,169.26 C361.79,170.00 362.63,170.61 363.11,171.57 C363.59,172.54 364.01,174.02 363.97,175.04 C363.94,176.07 363.68,176.90 362.89,177.71 C362.11,178.52 361.05,178.98 359.25,179.91 C357.45,180.83 354.45,182.19 352.07,183.25 C349.68,184.32 347.54,185.11 344.95,186.29 C342.35,187.48 338.93,189.47 336.51,190.37 C334.08,191.28 332.13,191.52 330.42,191.72 C328.71,191.92 327.35,191.78 326.25,191.60 C325.15,191.42 324.39,191.38 323.83,190.65 C323.26,189.92 322.97,188.44 322.87,187.22Z" fill="#000" fill-opacity="0.075" stroke="#000" stroke-opacity="0.88" stroke-width="0.5"/>
<path d="M323.81,187.50 C323.72,186.35 323.29,184.69 323.77,183.34 C324.25,182.00 325.22,180.97 326.71,179.42 C328.19,177.88 330.68,175.71 332.68,174.10 C334.69,172.49 336.63,170.77 338.74,169.76 C340.85,168.75 343.07,168.65 345.36,168.03 C347.64,167.41 350.64,166.25 352.44,166.05 C354.24,165.84 355.19,166.51 356.15,166.80 C357.12,167.09 357.47,167.42 358.23,167.79 C358.99,168.17 360.06,168.40 360.71,169.04 C361.36,169.68 361.79,170.74 362.12,171.65 C362.46,172.55 362.60,173.57 362.72,174.48 C362.83,175.40 363.31,176.21 362.81,177.16 C362.30,178.10 361.46,179.22 359.71,180.15 C357.97,181.08 354.95,181.81 352.34,182.75 C349.72,183.70 346.67,184.77 344.01,185.84 C341.36,186.91 338.67,188.14 336.40,189.18 C334.13,190.23 332.02,191.69 330.42,192.11 C328.82,192.52 327.79,191.98 326.78,191.67 C325.77,191.36 324.85,190.94 324.35,190.25 C323.86,189.55 323.91,188.65 323.81,187.50Z" fill="#000" fill-opacity="0.075" stroke="#000" stroke-opacity="0.88" stroke-width="0.5"/>
<path d="M323.42,187.45 C323.51,186.49 324.16,185.38 324.87,184.07 C325.57,182.77 326.35,181.19 327.65,179.64 C328.96,178.09 330.77,176.19 332.69,174.76 C334.60,173.32 336.92,172.14 339.12,171.01 C341.32,169.88 343.71,168.69 345.89,167.96 C348.07,167.23 350.51,166.87 352.19,166.64 C353.88,166.40 355.06,166.37 356.00,166.54 C356.94,166.71 357.02,167.07 357.83,167.65 C358.63,168.22 360.21,169.24 360.84,169.99 C361.47,170.74 361.29,171.47 361.62,172.17 C361.96,172.87 362.87,173.43 362.87,174.19 C362.86,174.96 362.32,176.06 361.58,176.77 C360.84,177.48 360.04,177.50 358.45,178.45 C356.85,179.40 354.43,181.21 352.02,182.49 C349.62,183.76 346.64,184.94 344.03,186.11 C341.43,187.27 338.64,188.67 336.39,189.48 C334.14,190.30 332.22,190.73 330.55,191.00 C328.87,191.27 327.40,191.29 326.35,191.09 C325.31,190.89 324.78,190.40 324.29,189.79 C323.80,189.19 323.32,188.40 323.42,187.45Z" fill="#000" fill-opacity="0.075" stroke="#000" stroke-opacity="0.88" stroke-width="0.5"/>
<path d="M324.03,187.15 C323.93,186.29 323.80,185.68 324.38,184.51 C324.96,183.34 326.00,181.62 327.52,180.12 C329.05,178.63 331.50,176.91 333.51,175.52 C335.53,174.13 337.56,172.91 339.59,171.77 C341.62,170.63 343.54,169.62 345.71,168.66 C347.87,167.69 350.90,166.30 352.56,166.00 C354.21,165.71 354.82,166.44 355.62,166.88 C356.43,167.32 356.74,168.15 357.39,168.63 C358.05,169.10 358.85,169.20 359.56,169.73 C360.28,170.26 361.35,171.13 361.68,171.81 C362.01,172.48 361.59,172.99 361.52,173.79 C361.44,174.58 361.82,175.79 361.24,176.56 C360.65,177.34 359.74,177.60 358.01,178.42 C356.28,179.25 353.20,180.38 350.87,181.50 C348.54,182.63 346.45,183.92 344.02,185.16 C341.59,186.40 338.52,188.01 336.28,188.96 C334.04,189.92 332.12,190.55 330.56,190.89 C329.01,191.22 327.89,191.16 326.96,190.96 C326.02,190.76 325.45,190.33 324.96,189.69 C324.48,189.06 324.13,188.02 324.03,187.15Z" fill="#000" fill-opacity="0.075" stroke="#000" stroke-opacity="0.88" stroke-width="0.5"/>
<path d="M324.67,187.26 C324.60,186.63 324.56,185.86 325.15,184.83 C325.75,183.81 326.71,182.70 328.24,181.12 C329.76,179.55 332.34,176.82 334.32,175.37 C336.30,173.92 338.10,173.53 340.12,172.42 C342.14,171.31 344.41,169.64 346.44,168.71 C348.47,167.79 350.85,167.13 352.30,166.89 C353.75,166.65 354.30,166.97 355.12,167.27 C355.93,167.58 356.40,168.22 357.18,168.73 C357.97,169.24 359.29,169.82 359.84,170.35 C360.38,170.89 360.18,171.48 360.43,171.93 C360.67,172.39 361.20,172.36 361.31,173.09 C361.41,173.82 361.67,175.46 361.08,176.33 C360.48,177.19 359.47,177.46 357.75,178.28 C356.02,179.09 352.99,180.06 350.70,181.20 C348.41,182.33 346.53,183.91 344.01,185.08 C341.48,186.24 337.89,187.30 335.56,188.18 C333.22,189.07 331.49,190.04 330.01,190.40 C328.52,190.77 327.40,190.67 326.66,190.38 C325.92,190.09 325.91,189.19 325.58,188.67 C325.25,188.15 324.74,187.90 324.67,187.26Z" fill="#000" fill-opacity="0.075" stroke="#000" stroke-opacity="0.88" stroke-width="0.5"/>
<path d="M325.21,187.13 C325.08,186.26 324.41,185.35 324.95,184.35 C325.49,183.36 327.01,182.43 328.45,181.18 C329.90,179.93 331.56,178.21 333.61,176.86 C335.66,175.50 338.73,174.31 340.77,173.06 C342.81,171.82 343.92,170.27 345.86,169.37 C347.79,168.48 350.82,168.02 352.40,167.70 C353.97,167.38 354.46,167.19 355.28,167.45 C356.11,167.72 356.64,168.91 357.34,169.28 C358.03,169.65 359.04,169.21 359.46,169.68 C359.87,170.16 359.65,171.49 359.84,172.13 C360.03,172.77 360.65,173.09 360.61,173.52 C360.56,173.96 360.00,174.16 359.56,174.75 C359.12,175.33 359.54,175.95 357.94,177.03 C356.34,178.11 352.40,179.96 349.96,181.22 C347.52,182.48 345.76,183.41 343.30,184.60 C340.84,185.78 337.53,187.30 335.20,188.32 C332.88,189.34 330.69,190.41 329.35,190.70 C328.01,190.99 327.76,190.24 327.16,190.05 C326.55,189.86 326.06,190.05 325.74,189.56 C325.41,189.08 325.34,188.00 325.21,187.13Z" fill="#000" fill-opacity="0.075" stroke="#000" stroke-opacity="0.88" stroke-width="0.5"/>
<path d="M325.25,186.70 C325.33,186.06 325.48,185.40 325.95,184.48 C326.42,183.57 326.76,182.54 328.09,181.20 C329.42,179.86 331.85,177.84 333.93,176.44 C336.00,175.04 338.34,173.88 340.52,172.79 C342.69,171.70 344.89,170.82 347.00,169.90 C349.11,168.99 351.80,167.70 353.19,167.31 C354.57,166.93 354.70,167.44 355.31,167.61 C355.92,167.79 356.25,167.95 356.85,168.37 C357.46,168.80 358.52,169.64 358.93,170.16 C359.34,170.68 359.05,171.12 359.32,171.51 C359.58,171.91 360.40,171.98 360.50,172.52 C360.61,173.06 360.48,174.02 359.95,174.76 C359.42,175.50 358.99,176.07 357.33,176.96 C355.68,177.86 352.40,178.92 350.03,180.15 C347.66,181.39 345.56,183.10 343.10,184.39 C340.64,185.69 337.46,186.98 335.28,187.92 C333.11,188.87 331.40,189.78 330.07,190.08 C328.73,190.38 328.05,190.00 327.28,189.71 C326.51,189.41 325.78,188.83 325.44,188.33 C325.11,187.83 325.17,187.34 325.25,186.70Z" fill="#000" fill-opacity="0.075" stroke="#000" stroke-opacity="0.88" stroke-width="0.5"/>
<path d="M325.37,187.49 C325.24,186.79 325.45,185.44 325.94,184.62 C326.43,183.80 326.75,183.74 328.32,182.57 C329.89,181.41 333.28,179.18 335.36,177.63 C337.44,176.08 338.92,174.43 340.81,173.26 C342.70,172.10 344.67,171.49 346.69,170.62 C348.71,169.75 351.53,168.28 352.93,168.04 C354.34,167.80 354.36,168.97 355.13,169.18 C355.90,169.39 357.11,169.03 357.56,169.30 C358.02,169.57 357.64,170.49 357.86,170.83 C358.09,171.16 358.78,170.99 358.91,171.29 C359.05,171.59 358.68,172.12 358.69,172.64 C358.70,173.16 359.33,173.85 358.98,174.41 C358.62,174.96 358.21,175.13 356.58,175.95 C354.94,176.77 351.60,178.10 349.18,179.31 C346.75,180.51 344.45,181.99 342.03,183.18 C339.60,184.38 336.73,185.47 334.64,186.47 C332.54,187.47 330.60,188.68 329.44,189.21 C328.29,189.73 328.16,189.67 327.70,189.61 C327.25,189.54 327.10,189.17 326.71,188.82 C326.32,188.46 325.50,188.19 325.37,187.49Z" fill="#000" fill-opacity="0.075" stroke="#000" stroke-opacity="0.88" stroke-width="0.5"/>
<path d="M326.65,187.67 C326.61,187.11 325.94,186.01 326.47,185.08 C327.00,184.15 328.34,183.24 329.85,182.09 C331.36,180.93 333.69,179.40 335.52,178.16 C337.35,176.92 338.76,175.77 340.81,174.64 C342.86,173.50 345.64,172.30 347.82,171.35 C350.01,170.40 352.75,169.33 353.93,168.92 C355.11,168.52 354.43,168.74 354.89,168.91 C355.34,169.08 356.13,169.62 356.68,169.93 C357.24,170.24 357.88,170.42 358.22,170.76 C358.57,171.10 358.61,171.62 358.75,171.97 C358.89,172.32 359.16,172.61 359.06,172.84 C358.95,173.06 358.61,172.92 358.11,173.31 C357.62,173.69 357.63,174.12 356.11,175.17 C354.59,176.22 351.27,178.27 348.98,179.58 C346.69,180.90 344.69,181.82 342.39,183.06 C340.10,184.30 337.34,186.08 335.20,187.00 C333.07,187.91 330.77,188.11 329.60,188.54 C328.43,188.97 328.67,189.60 328.19,189.58 C327.71,189.57 326.97,188.77 326.71,188.45 C326.46,188.13 326.69,188.23 326.65,187.67Z" fill="#000" fill-opacity="0.075" stroke="#000" stroke-opacity="0.88" stroke-width="0.5"/>
<path d="M326.97,186.49 C327.13,186.00 327.00,185.84 327.32,185.21 C327.63,184.58 327.41,183.88 328.84,182.70 C330.26,181.51 333.66,179.30 335.88,178.09 C338.10,176.87 340.19,176.51 342.14,175.41 C344.08,174.31 345.63,172.54 347.57,171.49 C349.51,170.44 352.42,169.47 353.78,169.12 C355.14,168.76 355.24,169.36 355.72,169.36 C356.20,169.35 356.45,168.96 356.64,169.08 C356.83,169.19 356.57,169.71 356.87,170.05 C357.18,170.38 358.21,170.81 358.45,171.07 C358.70,171.34 358.53,171.28 358.34,171.63 C358.16,171.98 357.65,172.62 357.34,173.19 C357.04,173.77 357.83,174.22 356.52,175.07 C355.21,175.93 351.89,177.09 349.48,178.31 C347.07,179.53 344.52,181.14 342.07,182.40 C339.62,183.65 336.75,184.81 334.75,185.82 C332.76,186.84 331.11,187.85 330.10,188.47 C329.08,189.09 329.27,189.60 328.64,189.54 C328.02,189.48 326.62,188.64 326.34,188.13 C326.06,187.62 326.80,186.98 326.97,186.49Z" fill="#000" fill-opacity="0.075" stroke="#000" stroke-opacity="0.88" stroke-width="0.5"/>
<path d="M327.60,187.80 C327.45,187.36 326.96,186.07 327.24,185.46 C327.52,184.86 327.93,185.20 329.30,184.16 C330.66,183.11 333.40,180.66 335.45,179.18 C337.50,177.71 339.40,176.56 341.58,175.30 C343.77,174.03 346.40,172.60 348.55,171.59 C350.70,170.58 353.27,169.53 354.49,169.23 C355.71,168.93 355.64,169.59 355.86,169.80 C356.07,170.01 355.60,170.51 355.79,170.51 C355.97,170.51 356.79,169.66 356.96,169.79 C357.14,169.92 356.72,170.95 356.83,171.28 C356.94,171.62 357.60,171.55 357.62,171.81 C357.64,172.08 357.27,172.38 356.94,172.87 C356.61,173.36 357.11,173.81 355.65,174.74 C354.19,175.68 350.40,177.37 348.17,178.49 C345.94,179.61 344.45,180.14 342.29,181.45 C340.13,182.76 337.26,185.20 335.22,186.33 C333.18,187.47 331.25,187.92 330.04,188.27 C328.82,188.62 328.26,188.45 327.94,188.42 C327.62,188.40 328.18,188.23 328.12,188.12 C328.07,188.02 327.74,188.24 327.60,187.80Z" fill="#000" fill-opacity="0.075" stroke="#000" stroke-opacity="0.88" stroke-width="0.5"/>
<path d="M327.28,186.97 C327.20,186.59 326.95,185.77 327.31,185.35 C327.66,184.93 327.96,185.30 329.39,184.45 C330.82,183.61 333.77,181.78 335.88,180.28 C338.00,178.77 340.01,176.79 342.06,175.43 C344.11,174.07 346.19,172.99 348.18,172.13 C350.17,171.27 352.74,170.59 354.01,170.28 C355.29,169.97 355.46,170.20 355.82,170.28 C356.17,170.36 355.91,170.70 356.15,170.77 C356.39,170.84 357.06,170.72 357.27,170.68 C357.47,170.64 357.36,170.35 357.40,170.54 C357.44,170.73 357.52,171.42 357.51,171.81 C357.51,172.20 357.75,172.71 357.37,172.90 C356.99,173.10 356.60,172.29 355.26,172.98 C353.91,173.67 351.57,175.65 349.27,177.04 C346.98,178.44 344.02,179.86 341.48,181.36 C338.94,182.86 335.94,184.94 334.05,186.03 C332.15,187.12 331.00,187.57 330.09,187.89 C329.17,188.22 328.93,188.00 328.55,187.96 C328.16,187.91 328.00,187.79 327.79,187.63 C327.58,187.46 327.36,187.35 327.28,186.97Z" fill="#000" fill-opacity="0.075" stroke="#000" stroke-opacity="0.88" stroke-width="0.5"/>
<path d="M327.34,186.52 C327.15,186.54 327.03,187.37 327.52,186.94 C328.01,186.50 328.66,184.93 330.27,183.93 C331.88,182.93 335.12,182.29 337.19,180.93 C339.27,179.57 340.90,177.16 342.70,175.75 C344.49,174.33 346.05,173.50 347.96,172.43 C349.87,171.35 353.02,169.73 354.15,169.28 C355.28,168.82 354.47,169.43 354.75,169.71 C355.03,169.99 355.52,170.82 355.83,170.97 C356.13,171.11 356.49,170.52 356.59,170.56 C356.69,170.61 356.44,171.08 356.41,171.22 C356.38,171.36 356.52,171.29 356.42,171.41 C356.32,171.52 355.86,171.72 355.79,171.90 C355.72,172.09 357.24,171.63 356.00,172.53 C354.75,173.44 350.68,175.98 348.32,177.34 C345.96,178.71 344.27,179.47 341.85,180.73 C339.42,181.99 335.90,183.71 333.78,184.90 C331.65,186.09 329.86,187.26 329.10,187.86 C328.34,188.47 329.28,188.68 329.20,188.51 C329.12,188.34 328.93,187.16 328.62,186.83 C328.31,186.50 327.52,186.50 327.34,186.52Z" fill="#000" fill-opacity="0.075" stroke="#000" stroke-opacity="0.88" stroke-width="0.5"/>
<path d="M327.47,187.39 C327.55,187.37 328.44,187.04 328.97,186.48 C329.51,185.91 329.40,184.84 330.69,183.99 C331.98,183.14 334.53,182.46 336.69,181.37 C338.85,180.27 341.50,178.80 343.63,177.43 C345.77,176.06 347.79,174.42 349.51,173.13 C351.23,171.84 353.02,170.12 353.95,169.71 C354.89,169.30 354.77,170.49 355.15,170.69 C355.52,170.90 356.06,170.84 356.21,170.93 C356.36,171.02 356.08,171.19 356.04,171.24 C356.00,171.28 356.09,171.09 355.97,171.20 C355.85,171.32 355.40,171.69 355.33,171.91 C355.26,172.14 355.59,172.48 355.56,172.54 C355.53,172.60 356.51,171.65 355.16,172.26 C353.80,172.88 349.72,174.77 347.41,176.25 C345.09,177.72 343.59,179.77 341.24,181.10 C338.89,182.43 335.29,183.13 333.29,184.25 C331.28,185.36 330.02,187.29 329.22,187.78 C328.41,188.27 328.58,187.38 328.46,187.18 C328.35,186.99 328.68,186.56 328.51,186.59 C328.34,186.63 327.39,187.41 327.47,187.39Z" fill="#000" fill-opacity="0.075" stroke="#000" stroke-opacity="0.88" stroke-width="0.5"/>
<ellipse cx="337.4" cy="185.4" rx="2.6" ry="1.2" transform="rotate(-30 337.4 185.4)" fill="#fff" fill-opacity="1.0"/>
<ellipse cx="350" cy="172" rx="1.5" ry="0.8" transform="rotate(-30 350 172)" fill="#fff" fill-opacity="0.5"/>
<ellipse cx="358" cy="168" rx="1.5" ry="1.0" transform="rotate(-30 358 168)" fill="#fff" fill-opacity="0.4"/>
<path d="M317.50,187.50 C317.67,185.40 318.28,182.68 319.60,180.30 C320.92,177.92 323.25,175.37 325.40,173.20 C327.55,171.03 329.97,169.07 332.50,167.30 C335.03,165.53 337.88,163.78 340.60,162.60 C343.32,161.42 346.10,160.58 348.80,160.20 C351.50,159.82 354.80,159.80 356.80,160.30 C358.80,160.80 359.62,163.38 360.80,163.20 C361.98,163.02 362.43,160.27 363.90,159.20 C365.37,158.13 367.77,156.75 369.60,156.80 C371.43,156.85 373.77,158.30 374.90,159.50 C376.03,160.70 376.65,162.48 376.40,164.00 C376.15,165.52 374.60,167.23 373.40,168.60 C372.20,169.97 369.80,170.67 369.20,172.20 C368.60,173.73 370.10,175.90 369.80,177.80 C369.50,179.70 368.95,182.03 367.40,183.60 C365.85,185.17 363.20,186.02 360.50,187.20 C357.80,188.38 354.30,189.53 351.20,190.70 C348.10,191.87 345.00,193.08 341.90,194.20 C338.80,195.32 335.70,196.87 332.60,197.40 C329.50,197.93 325.63,198.15 323.30,197.40 C320.97,196.65 319.57,194.55 318.60,192.90 C317.63,191.25 317.33,189.60 317.50,187.50Z" fill="none" stroke="#000" stroke-width="1.8" stroke-dasharray="0.1 3.45" stroke-linecap="round"/>
<ellipse cx="369.4" cy="164.4" rx="5.6" ry="5.3" fill="none" stroke="#000" stroke-width="0.6"/><ellipse cx="369.5" cy="164.6" rx="4.2" ry="3.9" fill="#000" fill-opacity="0.12" stroke="#000" stroke-width="0.55"/><ellipse cx="369.6" cy="164.8" rx="2.8" ry="2.5" fill="none" stroke="#000" stroke-width="0.55"/><ellipse cx="369.7" cy="165" rx="1.4" ry="1.2" fill="none" stroke="#000" stroke-width="0.55"/><path d="M361,166 C363,167 365,168 365.5,171" stroke="#000" stroke-width="0.6" fill="none"/>
<path d="M430.50,189.00 C430.50,186.83 431.33,183.42 432.50,181.00 C433.67,178.58 435.58,176.67 437.50,174.50 C439.42,172.33 441.58,169.83 444.00,168.00 C446.42,166.17 449.33,164.58 452.00,163.50 C454.67,162.42 457.55,161.75 460.00,161.50 C462.45,161.25 464.45,162.17 466.70,162.00 C468.95,161.83 471.03,160.87 473.50,160.50 C475.97,160.13 479.42,159.38 481.50,159.80 C483.58,160.22 485.25,161.72 486.00,163.00 C486.75,164.28 486.58,165.92 486.00,167.50 C485.42,169.08 483.75,171.00 482.50,172.50 C481.25,174.00 479.82,174.92 478.50,176.50 C477.18,178.08 476.12,180.42 474.60,182.00 C473.08,183.58 471.38,184.87 469.40,186.00 C467.42,187.13 465.17,187.70 462.70,188.80 C460.23,189.90 457.30,191.40 454.60,192.60 C451.90,193.80 449.18,195.33 446.50,196.00 C443.82,196.67 440.83,196.93 438.50,196.60 C436.17,196.27 433.83,195.27 432.50,194.00 C431.17,192.73 430.50,191.17 430.50,189.00Z" fill="#000" fill-opacity="0.000" stroke="#000" stroke-opacity="0.9" stroke-width="0.5"/>
<path d="M431.12,188.90 C431.12,186.94 431.78,183.91 432.93,181.67 C434.08,179.43 436.08,177.54 438.04,175.46 C439.99,173.38 442.22,170.97 444.65,169.17 C447.09,167.37 450.00,165.79 452.65,164.67 C455.30,163.56 458.15,162.82 460.55,162.49 C462.96,162.16 464.88,162.93 467.08,162.69 C469.29,162.44 471.41,161.43 473.79,161.02 C476.17,160.60 479.42,159.85 481.36,160.20 C483.30,160.55 484.75,161.93 485.43,163.10 C486.11,164.26 485.98,165.72 485.43,167.17 C484.87,168.61 483.33,170.37 482.10,171.78 C480.86,173.19 479.38,174.13 478.03,175.65 C476.68,177.17 475.54,179.38 473.99,180.91 C472.45,182.44 470.73,183.70 468.75,184.83 C466.76,185.96 464.54,186.58 462.09,187.70 C459.63,188.82 456.70,190.33 454.01,191.55 C451.33,192.77 448.57,194.33 445.96,195.03 C443.35,195.74 440.53,196.05 438.36,195.78 C436.19,195.51 434.14,194.57 432.93,193.43 C431.72,192.28 431.12,190.86 431.12,188.90Z" fill="#000" fill-opacity="0.000" stroke="#000" stroke-opacity="0.9" stroke-width="0.5"/>
<path d="M431.58,188.83 C431.58,187.03 432.10,184.27 433.25,182.16 C434.39,180.05 436.45,178.19 438.43,176.17 C440.42,174.15 442.69,171.81 445.14,170.04 C447.59,168.27 450.50,166.68 453.14,165.54 C455.78,164.41 458.59,163.62 460.97,163.23 C463.34,162.84 465.19,163.50 467.37,163.19 C469.54,162.89 471.69,161.85 474.00,161.40 C476.32,160.95 479.42,160.20 481.25,160.50 C483.08,160.79 484.38,162.10 485.00,163.17 C485.63,164.24 485.54,165.57 485.00,166.92 C484.47,168.27 483.02,169.90 481.80,171.25 C480.58,172.60 479.05,173.55 477.68,175.02 C476.30,176.50 475.11,178.61 473.54,180.10 C471.97,181.59 470.25,182.83 468.26,183.96 C466.28,185.09 464.08,185.75 461.63,186.88 C459.18,188.02 456.26,189.53 453.58,190.77 C450.90,192.01 448.11,193.58 445.56,194.32 C443.00,195.05 440.30,195.39 438.25,195.17 C436.20,194.95 434.36,194.06 433.25,193.00 C432.14,191.95 431.58,190.64 431.58,188.83Z" fill="#000" fill-opacity="0.100" stroke="#000" stroke-opacity="0.9" stroke-width="0.5"/>
<path d="M431.95,188.82 C431.96,187.12 432.76,184.57 433.90,182.58 C435.04,180.59 436.90,178.85 438.80,176.89 C440.70,174.93 442.82,172.55 445.30,170.83 C447.78,169.11 451.07,167.76 453.69,166.58 C456.30,165.39 458.72,164.17 460.98,163.72 C463.25,163.28 465.04,164.31 467.27,163.92 C469.50,163.52 471.98,161.81 474.36,161.35 C476.75,160.89 479.84,160.84 481.57,161.17 C483.31,161.50 484.30,162.48 484.76,163.33 C485.21,164.18 484.86,165.10 484.33,166.28 C483.79,167.45 482.76,169.06 481.56,170.39 C480.35,171.71 478.56,172.74 477.09,174.23 C475.62,175.73 474.28,177.80 472.73,179.34 C471.18,180.89 469.69,182.33 467.78,183.48 C465.86,184.63 463.67,185.15 461.24,186.27 C458.81,187.39 455.87,189.01 453.19,190.21 C450.51,191.42 447.60,192.67 445.16,193.48 C442.73,194.28 440.48,195.17 438.59,195.05 C436.70,194.94 434.93,193.84 433.83,192.80 C432.72,191.76 431.94,190.53 431.95,188.82Z" fill="#000" fill-opacity="0.100" stroke="#000" stroke-opacity="0.9" stroke-width="0.5"/>
<path d="M432.21,188.46 C432.22,186.89 432.41,184.48 433.61,182.63 C434.80,180.77 437.26,179.19 439.37,177.32 C441.49,175.46 443.79,173.10 446.30,171.44 C448.81,169.79 451.92,168.58 454.41,167.38 C456.89,166.18 458.92,164.80 461.22,164.24 C463.53,163.69 465.97,164.43 468.24,164.05 C470.50,163.67 472.75,162.46 474.82,161.98 C476.89,161.49 479.06,160.95 480.67,161.13 C482.29,161.32 483.99,162.21 484.52,163.08 C485.06,163.94 484.35,165.09 483.88,166.33 C483.42,167.58 482.91,169.33 481.71,170.56 C480.52,171.78 478.27,172.41 476.71,173.70 C475.16,174.98 473.89,176.88 472.39,178.29 C470.89,179.70 469.61,180.97 467.69,182.16 C465.78,183.34 463.42,184.17 460.89,185.41 C458.37,186.66 455.27,188.34 452.54,189.63 C449.81,190.93 446.99,192.47 444.52,193.20 C442.05,193.93 439.54,194.23 437.71,194.04 C435.88,193.85 434.45,192.98 433.54,192.05 C432.62,191.12 432.20,190.03 432.21,188.46Z" fill="#000" fill-opacity="0.100" stroke="#000" stroke-opacity="0.9" stroke-width="0.5"/>
<path d="M433.21,188.95 C433.19,187.66 432.87,185.64 433.86,183.80 C434.86,181.95 437.02,179.78 439.16,177.88 C441.30,175.98 444.24,173.99 446.71,172.38 C449.18,170.77 451.48,169.48 453.98,168.23 C456.48,166.98 459.33,165.52 461.73,164.86 C464.12,164.21 466.25,164.80 468.35,164.32 C470.46,163.83 472.31,162.46 474.35,161.96 C476.39,161.46 479.03,161.09 480.58,161.33 C482.14,161.58 483.14,162.63 483.67,163.44 C484.21,164.26 484.16,165.17 483.80,166.24 C483.44,167.32 482.65,168.62 481.49,169.88 C480.34,171.13 478.43,172.48 476.86,173.78 C475.29,175.09 473.66,176.33 472.09,177.71 C470.51,179.09 469.41,180.94 467.43,182.07 C465.46,183.20 462.68,183.31 460.23,184.51 C457.77,185.70 455.38,187.82 452.71,189.23 C450.05,190.63 446.64,192.18 444.25,192.93 C441.85,193.68 440.07,193.96 438.36,193.73 C436.64,193.50 434.84,192.34 433.98,191.54 C433.12,190.74 433.23,190.24 433.21,188.95Z" fill="#000" fill-opacity="0.100" stroke="#000" stroke-opacity="0.9" stroke-width="0.5"/>
<path d="M432.62,189.08 C432.66,187.79 432.88,185.71 434.03,184.01 C435.18,182.31 437.36,180.75 439.50,178.87 C441.63,176.98 444.35,174.40 446.84,172.69 C449.32,170.99 451.90,169.86 454.41,168.65 C456.92,167.43 459.55,165.95 461.88,165.39 C464.21,164.82 466.21,165.73 468.37,165.24 C470.52,164.75 472.67,163.12 474.83,162.45 C476.99,161.77 479.95,161.05 481.33,161.17 C482.71,161.29 482.73,162.42 483.10,163.16 C483.47,163.91 483.98,164.62 483.54,165.65 C483.11,166.68 481.64,168.19 480.48,169.35 C479.32,170.50 478.02,171.15 476.59,172.56 C475.16,173.98 473.48,176.39 471.91,177.83 C470.34,179.28 469.09,180.19 467.16,181.26 C465.23,182.33 462.88,183.19 460.32,184.27 C457.76,185.35 454.54,186.37 451.77,187.72 C449.01,189.07 446.02,191.38 443.74,192.37 C441.46,193.35 439.76,193.74 438.11,193.64 C436.45,193.53 434.72,192.50 433.80,191.74 C432.89,190.98 432.59,190.37 432.62,189.08Z" fill="#000" fill-opacity="0.100" stroke="#000" stroke-opacity="0.9" stroke-width="0.5"/>
<path d="M433.42,188.80 C433.39,187.75 433.31,186.33 434.34,184.71 C435.37,183.10 437.41,180.90 439.58,179.11 C441.75,177.32 444.73,175.62 447.36,173.99 C449.99,172.35 452.76,170.51 455.36,169.28 C457.96,168.06 460.78,167.30 462.95,166.66 C465.11,166.03 466.29,166.00 468.35,165.45 C470.41,164.90 473.25,163.94 475.31,163.36 C477.37,162.79 479.34,161.99 480.73,162.02 C482.13,162.04 483.23,162.90 483.68,163.53 C484.13,164.16 483.92,164.84 483.42,165.79 C482.92,166.73 481.96,168.07 480.68,169.21 C479.41,170.35 477.20,171.29 475.80,172.63 C474.39,173.97 473.79,175.96 472.25,177.24 C470.71,178.53 468.59,179.26 466.55,180.33 C464.52,181.40 462.51,182.39 460.04,183.66 C457.57,184.94 454.52,186.66 451.76,187.99 C449.00,189.33 445.89,190.88 443.49,191.68 C441.08,192.49 438.80,192.94 437.31,192.82 C435.81,192.70 435.16,191.66 434.51,190.99 C433.87,190.32 433.45,189.85 433.42,188.80Z" fill="#000" fill-opacity="0.100" stroke="#000" stroke-opacity="0.9" stroke-width="0.5"/>
<path d="M434.00,188.49 C434.06,187.43 433.89,186.58 434.90,185.00 C435.91,183.43 438.00,180.79 440.05,179.02 C442.11,177.24 444.71,176.00 447.22,174.38 C449.73,172.76 452.42,170.55 455.11,169.31 C457.81,168.07 461.13,167.47 463.39,166.93 C465.65,166.39 466.75,166.65 468.65,166.07 C470.56,165.48 472.87,164.13 474.83,163.43 C476.79,162.72 478.98,161.74 480.40,161.84 C481.82,161.93 482.83,163.35 483.33,163.98 C483.83,164.61 483.89,164.85 483.41,165.61 C482.94,166.36 481.78,167.42 480.48,168.49 C479.17,169.56 477.04,170.66 475.59,172.02 C474.14,173.38 473.34,175.26 471.78,176.65 C470.21,178.03 468.29,179.35 466.20,180.34 C464.10,181.34 461.66,181.53 459.20,182.61 C456.74,183.69 454.10,185.44 451.45,186.81 C448.81,188.17 445.58,189.89 443.32,190.80 C441.06,191.71 439.35,192.17 437.89,192.26 C436.43,192.36 435.20,192.00 434.55,191.37 C433.91,190.74 433.94,189.55 434.00,188.49Z" fill="#000" fill-opacity="0.100" stroke="#000" stroke-opacity="0.9" stroke-width="0.5"/>
<path d="M434.67,188.39 C434.61,187.27 433.41,185.79 434.48,184.31 C435.54,182.83 438.80,181.10 441.06,179.53 C443.32,177.95 445.62,176.35 448.04,174.87 C450.46,173.39 453.13,171.99 455.57,170.65 C458.00,169.31 460.42,167.70 462.64,166.83 C464.86,165.95 466.71,166.01 468.86,165.40 C471.02,164.80 473.68,163.83 475.57,163.19 C477.47,162.55 479.03,161.53 480.24,161.58 C481.45,161.63 482.40,162.79 482.84,163.49 C483.27,164.18 483.22,164.85 482.84,165.75 C482.45,166.65 481.68,167.97 480.54,168.88 C479.40,169.79 477.56,170.15 475.98,171.22 C474.39,172.29 472.87,173.97 471.04,175.29 C469.22,176.62 466.97,178.06 465.03,179.18 C463.09,180.31 461.74,180.84 459.39,182.03 C457.04,183.22 453.56,184.93 450.93,186.33 C448.30,187.73 445.79,189.44 443.61,190.41 C441.42,191.38 439.27,192.05 437.81,192.15 C436.35,192.25 435.38,191.66 434.86,191.03 C434.34,190.40 434.74,189.51 434.67,188.39Z" fill="#000" fill-opacity="0.100" stroke="#000" stroke-opacity="0.9" stroke-width="0.5"/>
<path d="M434.92,187.88 C434.95,187.13 434.83,186.72 435.75,185.49 C436.67,184.26 438.33,182.11 440.42,180.51 C442.51,178.91 445.69,177.49 448.28,175.90 C450.87,174.31 453.36,172.28 455.98,170.99 C458.59,169.69 461.69,168.93 463.98,168.14 C466.26,167.36 467.75,167.07 469.67,166.28 C471.59,165.49 473.65,163.99 475.52,163.40 C477.38,162.81 479.70,162.65 480.88,162.73 C482.05,162.81 482.37,163.35 482.57,163.88 C482.76,164.40 482.36,165.12 482.03,165.90 C481.70,166.68 481.65,167.62 480.57,168.56 C479.49,169.50 477.23,170.33 475.56,171.51 C473.89,172.69 472.18,174.49 470.54,175.64 C468.90,176.79 467.77,177.41 465.73,178.43 C463.69,179.45 460.76,180.46 458.30,181.78 C455.84,183.09 453.51,185.06 450.97,186.32 C448.43,187.57 445.24,188.54 443.08,189.30 C440.91,190.06 439.23,190.77 437.99,190.88 C436.74,190.99 436.10,190.48 435.58,189.98 C435.07,189.48 434.89,188.63 434.92,187.88Z" fill="#000" fill-opacity="0.100" stroke="#000" stroke-opacity="0.9" stroke-width="0.5"/>
<path d="M434.51,188.73 C434.41,187.89 433.84,186.32 434.95,185.09 C436.06,183.85 438.85,182.82 441.18,181.34 C443.50,179.86 446.25,177.86 448.89,176.22 C451.54,174.57 454.46,172.89 457.04,171.48 C459.62,170.06 462.38,168.52 464.37,167.72 C466.35,166.93 467.13,167.27 468.94,166.70 C470.74,166.14 473.23,165.02 475.19,164.33 C477.16,163.64 479.48,162.66 480.71,162.56 C481.93,162.46 482.36,163.31 482.55,163.73 C482.75,164.15 482.25,164.34 481.86,165.07 C481.47,165.80 481.38,167.11 480.22,168.13 C479.06,169.14 476.42,170.10 474.89,171.18 C473.37,172.27 472.71,173.53 471.07,174.61 C469.43,175.69 467.14,176.53 465.05,177.64 C462.97,178.76 460.94,180.11 458.56,181.30 C456.18,182.50 453.27,183.48 450.75,184.84 C448.23,186.19 445.66,188.34 443.44,189.43 C441.21,190.53 438.72,191.30 437.40,191.41 C436.07,191.52 435.99,190.54 435.50,190.09 C435.02,189.64 434.60,189.56 434.51,188.73Z" fill="#000" fill-opacity="0.100" stroke="#000" stroke-opacity="0.9" stroke-width="0.5"/>
<path d="M435.29,187.71 C435.36,187.00 434.56,186.69 435.69,185.76 C436.81,184.82 439.91,183.64 442.04,182.10 C444.17,180.56 446.08,178.19 448.45,176.51 C450.82,174.82 453.60,173.17 456.27,171.97 C458.94,170.77 462.28,170.17 464.48,169.30 C466.68,168.43 467.68,167.56 469.46,166.75 C471.25,165.94 473.26,165.20 475.19,164.45 C477.12,163.69 479.87,162.45 481.04,162.22 C482.21,161.98 482.14,162.63 482.20,163.04 C482.27,163.46 481.80,164.03 481.40,164.69 C481.01,165.35 480.92,166.04 479.82,167.00 C478.73,167.97 476.55,169.25 474.85,170.47 C473.15,171.70 471.41,173.19 469.62,174.36 C467.83,175.53 466.08,176.48 464.12,177.48 C462.16,178.47 460.16,179.12 457.87,180.35 C455.58,181.58 452.95,183.44 450.37,184.86 C447.79,186.27 444.53,187.94 442.39,188.82 C440.24,189.70 438.69,189.95 437.50,190.15 C436.30,190.34 435.60,190.41 435.23,190.00 C434.86,189.60 435.21,188.42 435.29,187.71Z" fill="#000" fill-opacity="0.100" stroke="#000" stroke-opacity="0.9" stroke-width="0.5"/>
<path d="M435.52,188.30 C435.70,187.88 435.23,187.47 436.34,186.36 C437.45,185.24 440.00,183.07 442.18,181.60 C444.36,180.14 446.85,179.09 449.43,177.55 C452.01,176.01 455.23,173.65 457.67,172.37 C460.11,171.08 462.12,170.55 464.05,169.83 C465.99,169.11 467.23,169.01 469.28,168.04 C471.32,167.07 474.51,164.81 476.30,164.01 C478.09,163.21 479.20,163.38 480.02,163.24 C480.83,163.10 480.87,162.91 481.20,163.17 C481.54,163.43 482.25,164.26 482.02,164.79 C481.78,165.32 481.01,165.47 479.79,166.37 C478.56,167.26 476.45,169.04 474.68,170.16 C472.91,171.28 470.86,171.87 469.18,173.09 C467.50,174.31 466.34,176.38 464.58,177.48 C462.81,178.58 461.00,178.46 458.58,179.68 C456.16,180.90 452.77,183.29 450.05,184.80 C447.34,186.31 444.49,187.93 442.30,188.74 C440.12,189.54 438.11,189.58 436.94,189.61 C435.77,189.63 435.52,189.11 435.28,188.89 C435.04,188.67 435.35,188.72 435.52,188.30Z" fill="#000" fill-opacity="0.100" stroke="#000" stroke-opacity="0.9" stroke-width="0.5"/>
<path d="M435.70,188.23 C435.59,187.61 435.18,187.03 436.15,185.99 C437.11,184.95 439.17,183.27 441.47,182.00 C443.76,180.74 447.14,179.96 449.90,178.39 C452.66,176.82 455.70,173.92 458.04,172.59 C460.38,171.25 461.97,171.13 463.93,170.37 C465.89,169.62 467.85,168.99 469.80,168.05 C471.75,167.11 473.88,165.57 475.63,164.73 C477.39,163.89 479.38,163.28 480.34,163.00 C481.31,162.73 481.22,162.69 481.42,163.07 C481.63,163.44 482.02,164.68 481.57,165.25 C481.12,165.82 479.82,165.81 478.71,166.49 C477.61,167.17 476.54,168.35 474.94,169.36 C473.35,170.36 470.95,171.46 469.13,172.51 C467.31,173.55 465.85,174.35 464.03,175.62 C462.21,176.90 460.53,178.68 458.20,180.15 C455.88,181.63 452.73,183.18 450.07,184.47 C447.41,185.76 444.33,186.98 442.23,187.87 C440.13,188.76 438.38,189.52 437.47,189.83 C436.55,190.14 437.05,189.99 436.76,189.72 C436.46,189.46 435.80,188.86 435.70,188.23Z" fill="#000" fill-opacity="0.100" stroke="#000" stroke-opacity="0.9" stroke-width="0.5"/>
<path d="M435.54,188.80 C435.72,188.58 435.43,188.26 436.62,187.25 C437.81,186.24 440.38,184.16 442.67,182.75 C444.95,181.34 447.75,180.23 450.31,178.80 C452.87,177.36 455.52,175.61 458.01,174.15 C460.50,172.68 463.18,171.16 465.25,170.03 C467.31,168.89 468.62,168.16 470.38,167.32 C472.14,166.48 474.26,165.68 475.78,164.98 C477.30,164.27 478.59,163.23 479.50,163.07 C480.41,162.92 481.04,163.66 481.22,164.02 C481.40,164.39 480.92,164.94 480.60,165.27 C480.27,165.59 480.25,165.32 479.25,165.97 C478.25,166.63 476.27,168.15 474.61,169.21 C472.96,170.26 471.03,171.19 469.34,172.32 C467.65,173.45 466.42,174.80 464.47,176.01 C462.52,177.22 460.02,178.47 457.64,179.59 C455.27,180.71 452.84,181.33 450.23,182.71 C447.61,184.10 444.19,186.83 441.97,187.92 C439.74,189.02 437.95,189.19 436.88,189.29 C435.81,189.39 435.78,188.62 435.56,188.54 C435.33,188.46 435.36,189.01 435.54,188.80Z" fill="#000" fill-opacity="0.100" stroke="#000" stroke-opacity="0.9" stroke-width="0.5"/>
<path d="M436.00,187.49 C435.96,187.22 434.96,188.47 436.05,187.78 C437.13,187.09 440.06,184.83 442.51,183.35 C444.96,181.86 448.03,180.34 450.74,178.86 C453.46,177.39 456.33,175.98 458.80,174.50 C461.28,173.01 463.66,170.92 465.59,169.96 C467.52,168.99 468.73,169.38 470.37,168.71 C472.01,168.04 473.89,166.83 475.44,165.95 C476.98,165.07 478.85,163.78 479.65,163.44 C480.44,163.09 480.00,163.82 480.22,163.87 C480.43,163.92 481.03,163.42 480.92,163.73 C480.80,164.05 480.64,164.91 479.52,165.76 C478.40,166.62 475.98,167.88 474.19,168.86 C472.41,169.84 470.55,170.56 468.80,171.64 C467.04,172.73 465.66,174.12 463.65,175.35 C461.63,176.58 459.17,177.88 456.71,179.02 C454.25,180.16 451.49,180.96 448.90,182.19 C446.30,183.42 443.18,185.17 441.13,186.38 C439.09,187.60 437.45,188.97 436.64,189.47 C435.83,189.97 436.38,189.70 436.27,189.37 C436.16,189.04 436.04,187.75 436.00,187.49Z" fill="#000" fill-opacity="0.100" stroke="#000" stroke-opacity="0.9" stroke-width="0.5"/>
<path d="M436.89,187.34 C436.94,187.25 436.60,188.65 437.44,188.17 C438.29,187.69 439.85,185.93 441.97,184.44 C444.10,182.95 447.33,180.93 450.18,179.25 C453.04,177.58 456.56,175.63 459.09,174.39 C461.63,173.15 463.44,172.78 465.39,171.80 C467.33,170.83 468.81,169.52 470.76,168.56 C472.70,167.59 475.49,166.94 477.08,166.02 C478.67,165.10 479.69,163.39 480.29,163.03 C480.89,162.67 480.73,163.76 480.68,163.85 C480.63,163.93 480.33,163.36 479.99,163.54 C479.66,163.73 479.70,164.10 478.67,164.94 C477.65,165.78 475.51,167.57 473.84,168.59 C472.17,169.62 470.43,170.10 468.66,171.10 C466.89,172.09 465.14,173.40 463.24,174.59 C461.33,175.77 459.47,176.79 457.23,178.23 C454.98,179.67 452.36,181.89 449.77,183.23 C447.18,184.56 443.89,185.22 441.68,186.24 C439.46,187.26 437.25,188.93 436.49,189.33 C435.72,189.74 437.04,189.02 437.11,188.69 C437.17,188.35 436.83,187.43 436.89,187.34Z" fill="#000" fill-opacity="0.100" stroke="#000" stroke-opacity="0.9" stroke-width="0.5"/>
<ellipse cx="480.3" cy="165.7" rx="1.6" ry="1.2" transform="rotate(0 480.3 165.7)" fill="#fff" fill-opacity="0.9"/>
<ellipse cx="460" cy="176" rx="0.9" ry="0.9" transform="rotate(0 460 176)" fill="#fff" fill-opacity="0.8"/>
<ellipse cx="451" cy="182" rx="1.6" ry="0.6" transform="rotate(-60 451 182)" fill="#fff" fill-opacity="0.6"/>
<ellipse cx="438" cy="186.5" rx="2.6" ry="1.6" transform="rotate(-30 438 186.5)" fill="#fff" fill-opacity="0.35"/>
<ellipse cx="440.5" cy="184.5" rx="1.6" ry="0.9" transform="rotate(-30 440.5 184.5)" fill="#fff" fill-opacity="0.3"/>
<ellipse cx="476.5" cy="170.5" rx="1.2" ry="0.8" transform="rotate(-30 476.5 170.5)" fill="#fff" fill-opacity="0.6"/>
<ellipse cx="472" cy="166" rx="1.4" ry="0.7" transform="rotate(-30 472 166)" fill="#fff" fill-opacity="0.35"/>
<path d="M429.00,189.00 C429.00,186.77 430.35,183.47 431.70,181.00 C433.05,178.53 435.08,176.45 437.10,174.20 C439.12,171.95 441.33,169.40 443.80,167.50 C446.27,165.60 449.20,163.92 451.90,162.80 C454.60,161.68 457.53,161.03 460.00,160.80 C462.47,160.57 464.45,161.52 466.70,161.40 C468.95,161.28 471.03,160.43 473.50,160.10 C475.97,159.77 479.27,158.95 481.50,159.40 C483.73,159.85 486.00,161.45 486.90,162.80 C487.80,164.15 487.57,165.82 486.90,167.50 C486.23,169.18 484.25,171.33 482.90,172.90 C481.55,174.47 480.15,175.33 478.80,176.90 C477.45,178.47 476.37,180.73 474.80,182.30 C473.23,183.87 471.42,185.18 469.40,186.30 C467.38,187.42 465.17,187.87 462.70,189.00 C460.23,190.13 457.30,191.87 454.60,193.10 C451.90,194.33 449.18,195.73 446.50,196.40 C443.82,197.07 440.97,197.43 438.50,197.10 C436.03,196.77 433.28,195.75 431.70,194.40 C430.12,193.05 429.00,191.23 429.00,189.00Z" fill="none" stroke="#000" stroke-width="1.8" stroke-dasharray="0.1 3.45" stroke-linecap="round"/>
<path d="M463,160.6 C468,158.4 474,156.8 479,156.6 C484,156.5 487.6,159 488.1,163.5 C488.4,168 485.6,172.5 482.6,176.5 C481.2,179 479.6,181.6 477,182.5 C475.2,183 473.6,181.8 474,180" fill="none" stroke="#111" stroke-width="0.6"/>
<rect x="265.6" y="245.7" width="1.3" height="1.8" fill="#555"/>
<text x="0.3" y="283" font-size="24" font-weight="bold" fill="#000">C</text>
<path d="M48.00,437.70 C48.18,436.85 48.46,434.12 49.00,433.00 C49.54,431.88 50.24,431.95 51.00,431.50 C51.76,431.05 52.30,431.13 53.20,430.50 C54.10,429.87 55.05,429.17 56.00,428.00 C56.95,426.83 57.69,425.62 58.50,424.00 C59.31,422.38 59.89,420.40 60.50,419.00 C61.11,417.60 61.41,418.54 61.90,416.20 C62.39,413.86 62.77,408.39 63.20,406.00 C63.63,403.61 63.92,402.18 64.30,402.90 C64.68,403.62 64.90,406.56 65.30,410.00 C65.70,413.44 65.83,418.58 66.50,422.00 C67.17,425.42 68.19,427.20 69.00,429.00 C69.81,430.80 70.19,432.18 71.00,432.00 C71.81,431.82 72.47,430.05 73.50,428.00 C74.53,425.95 75.89,421.32 76.70,420.60 C77.51,419.88 77.53,422.63 78.00,424.00 C78.47,425.37 78.67,428.74 79.30,428.20 C79.93,427.66 80.60,423.74 81.50,421.00 C82.40,418.26 83.40,413.90 84.30,413.00 C85.20,412.10 85.69,414.63 86.50,416.00 C87.31,417.37 87.81,421.32 88.80,420.60 C89.79,419.88 90.63,415.53 92.00,412.00 C93.37,408.47 95.23,402.44 96.40,401.00 C97.57,399.56 97.71,402.76 98.50,404.00 C99.29,405.24 100.08,407.43 100.80,407.90 C101.52,408.37 101.74,408.65 102.50,406.60 C103.26,404.55 103.99,400.95 105.00,396.50 C106.01,392.05 107.11,384.74 108.10,381.90 C109.09,379.06 109.53,381.62 110.50,380.70 C111.47,379.78 112.67,376.58 113.50,376.80 C114.33,377.02 114.38,379.88 115.10,381.90 C115.82,383.92 116.71,388.16 117.50,388.00 C118.29,387.84 118.87,382.98 119.50,381.00 C120.13,379.02 120.41,377.72 121.00,377.00 C121.59,376.28 122.06,374.97 122.80,377.00 C123.54,379.03 124.27,383.55 125.10,388.30 C125.93,393.05 126.55,399.01 127.40,403.40 C128.25,407.79 128.85,412.29 129.80,412.70 C130.75,413.11 131.76,408.85 132.70,405.70 C133.64,402.55 134.28,399.83 135.00,395.20 C135.72,390.57 136.18,385.44 136.70,380.00 C137.22,374.56 137.41,368.96 137.90,365.00 C138.39,361.04 138.79,360.70 139.40,358.00 C140.01,355.30 140.54,352.39 141.30,350.00 C142.06,347.61 142.97,345.87 143.60,344.70 C144.23,343.53 144.26,343.09 144.80,343.50 C145.34,343.91 145.99,347.34 146.60,347.00 C147.21,346.66 147.66,345.02 148.20,341.60 C148.74,338.18 149.11,333.42 149.60,328.00 C150.09,322.58 150.47,312.35 150.90,311.50 C151.33,310.65 151.44,319.07 152.00,323.30 C152.56,327.53 153.32,329.65 154.00,335.00 C154.68,340.35 155.15,350.12 155.80,353.00 C156.45,355.88 157.10,352.80 157.60,351.00 C158.10,349.20 158.28,351.28 158.60,343.00 C158.92,334.72 159.08,315.26 159.40,305.00 C159.72,294.74 159.99,291.40 160.40,286.00 C160.81,280.60 161.25,275.00 161.70,275.00 C162.15,275.00 162.56,281.14 162.90,286.00 C163.24,290.86 163.20,296.60 163.60,302.00 C164.00,307.40 164.54,311.03 165.10,316.00 C165.66,320.97 166.03,326.02 166.70,329.60 C167.37,333.18 167.85,335.52 168.80,335.90 C169.75,336.28 171.05,333.59 172.00,331.70 C172.95,329.81 173.47,324.99 174.10,325.40 C174.73,325.81 175.18,330.36 175.50,334.00 C175.82,337.64 175.54,340.67 175.90,345.60 C176.26,350.53 177.03,356.85 177.50,361.40 C177.97,365.95 178.03,368.42 178.50,370.90 C178.97,373.38 179.43,374.71 180.10,375.20 C180.77,375.69 181.53,373.22 182.20,373.60 C182.87,373.98 183.31,375.25 183.80,377.30 C184.29,379.35 184.58,381.63 184.90,385.00 C185.22,388.37 185.10,390.82 185.60,396.00 C186.10,401.18 186.91,407.82 187.70,413.80 C188.49,419.78 189.17,425.31 190.00,429.20 C190.83,433.09 191.58,433.91 192.30,435.40 C193.02,436.89 186.13,437.09 194.00,437.50 C201.87,437.91 228.44,437.66 236.00,437.70 Z" fill="#dadada" stroke="none"/>
<path d="M48.00,437.70 C48.18,436.85 48.46,434.12 49.00,433.00 C49.54,431.88 50.24,431.95 51.00,431.50 C51.76,431.05 52.30,431.13 53.20,430.50 C54.10,429.87 55.05,429.17 56.00,428.00 C56.95,426.83 57.69,425.62 58.50,424.00 C59.31,422.38 59.89,420.40 60.50,419.00 C61.11,417.60 61.41,418.54 61.90,416.20 C62.39,413.86 62.77,408.39 63.20,406.00 C63.63,403.61 63.92,402.18 64.30,402.90 C64.68,403.62 64.90,406.56 65.30,410.00 C65.70,413.44 65.83,418.58 66.50,422.00 C67.17,425.42 68.19,427.20 69.00,429.00 C69.81,430.80 70.19,432.18 71.00,432.00 C71.81,431.82 72.47,430.05 73.50,428.00 C74.53,425.95 75.89,421.32 76.70,420.60 C77.51,419.88 77.53,422.63 78.00,424.00 C78.47,425.37 78.67,428.74 79.30,428.20 C79.93,427.66 80.60,423.74 81.50,421.00 C82.40,418.26 83.40,413.90 84.30,413.00 C85.20,412.10 85.69,414.63 86.50,416.00 C87.31,417.37 87.81,421.32 88.80,420.60 C89.79,419.88 90.63,415.53 92.00,412.00 C93.37,408.47 95.23,402.44 96.40,401.00 C97.57,399.56 97.71,402.76 98.50,404.00 C99.29,405.24 100.08,407.43 100.80,407.90 C101.52,408.37 101.74,408.65 102.50,406.60 C103.26,404.55 103.99,400.95 105.00,396.50 C106.01,392.05 107.11,384.74 108.10,381.90 C109.09,379.06 109.53,381.62 110.50,380.70 C111.47,379.78 112.67,376.58 113.50,376.80 C114.33,377.02 114.38,379.88 115.10,381.90 C115.82,383.92 116.71,388.16 117.50,388.00 C118.29,387.84 118.87,382.98 119.50,381.00 C120.13,379.02 120.41,377.72 121.00,377.00 C121.59,376.28 122.06,374.97 122.80,377.00 C123.54,379.03 124.27,383.55 125.10,388.30 C125.93,393.05 126.55,399.01 127.40,403.40 C128.25,407.79 128.85,412.29 129.80,412.70 C130.75,413.11 131.76,408.85 132.70,405.70 C133.64,402.55 134.28,399.83 135.00,395.20 C135.72,390.57 136.18,385.44 136.70,380.00 C137.22,374.56 137.41,368.96 137.90,365.00 C138.39,361.04 138.79,360.70 139.40,358.00 C140.01,355.30 140.54,352.39 141.30,350.00 C142.06,347.61 142.97,345.87 143.60,344.70 C144.23,343.53 144.26,343.09 144.80,343.50 C145.34,343.91 145.99,347.34 146.60,347.00 C147.21,346.66 147.66,345.02 148.20,341.60 C148.74,338.18 149.11,333.42 149.60,328.00 C150.09,322.58 150.47,312.35 150.90,311.50 C151.33,310.65 151.44,319.07 152.00,323.30 C152.56,327.53 153.32,329.65 154.00,335.00 C154.68,340.35 155.15,350.12 155.80,353.00 C156.45,355.88 157.10,352.80 157.60,351.00 C158.10,349.20 158.28,351.28 158.60,343.00 C158.92,334.72 159.08,315.26 159.40,305.00 C159.72,294.74 159.99,291.40 160.40,286.00 C160.81,280.60 161.25,275.00 161.70,275.00 C162.15,275.00 162.56,281.14 162.90,286.00 C163.24,290.86 163.20,296.60 163.60,302.00 C164.00,307.40 164.54,311.03 165.10,316.00 C165.66,320.97 166.03,326.02 166.70,329.60 C167.37,333.18 167.85,335.52 168.80,335.90 C169.75,336.28 171.05,333.59 172.00,331.70 C172.95,329.81 173.47,324.99 174.10,325.40 C174.73,325.81 175.18,330.36 175.50,334.00 C175.82,337.64 175.54,340.67 175.90,345.60 C176.26,350.53 177.03,356.85 177.50,361.40 C177.97,365.95 178.03,368.42 178.50,370.90 C178.97,373.38 179.43,374.71 180.10,375.20 C180.77,375.69 181.53,373.22 182.20,373.60 C182.87,373.98 183.31,375.25 183.80,377.30 C184.29,379.35 184.58,381.63 184.90,385.00 C185.22,388.37 185.10,390.82 185.60,396.00 C186.10,401.18 186.91,407.82 187.70,413.80 C188.49,419.78 189.17,425.31 190.00,429.20 C190.83,433.09 191.58,433.91 192.30,435.40 C193.02,436.89 186.13,437.09 194.00,437.50 C201.87,437.91 228.44,437.66 236.00,437.70" fill="none" stroke="#8a8a8a" stroke-width="1"/>
<path d="M49.60,300.00 C49.78,314.40 50.19,359.61 50.60,380.00 C51.01,400.39 51.32,406.78 51.90,413.30 C52.48,419.82 53.06,416.61 53.80,416.20 C54.54,415.79 55.24,412.93 56.00,411.00 C56.76,409.07 57.28,406.80 58.00,405.50 C58.72,404.20 59.19,403.35 60.00,403.80 C60.81,404.25 61.64,405.95 62.50,408.00 C63.36,410.05 64.12,415.38 64.80,415.20 C65.48,415.02 65.80,409.74 66.30,407.00 C66.80,404.26 67.20,403.06 67.60,400.00 C68.00,396.94 67.89,392.34 68.50,390.00 C69.11,387.66 70.10,388.46 71.00,387.00 C71.90,385.54 72.69,381.36 73.50,381.90 C74.31,382.44 74.74,386.74 75.50,390.00 C76.26,393.26 77.03,399.46 77.70,400.00 C78.37,400.54 78.70,395.47 79.20,393.00 C79.70,390.53 79.82,388.41 80.50,386.30 C81.18,384.19 82.14,381.75 83.00,381.30 C83.86,380.85 84.38,384.57 85.30,383.80 C86.22,383.03 87.07,376.60 88.10,377.00 C89.13,377.40 89.97,382.38 91.00,386.00 C92.03,389.62 92.99,397.28 93.80,397.10 C94.61,396.92 95.03,390.89 95.50,385.00 C95.97,379.11 96.13,370.16 96.40,364.40 C96.67,358.64 96.78,357.57 97.00,353.00 C97.22,348.43 97.26,343.12 97.60,339.00 C97.94,334.88 98.38,332.44 98.90,330.10 C99.42,327.76 99.65,328.27 100.50,326.00 C101.35,323.73 102.52,318.31 103.60,317.50 C104.68,316.69 105.35,321.86 106.50,321.50 C107.65,321.14 108.81,319.01 110.00,315.50 C111.19,311.99 111.97,305.01 113.10,302.00 C114.23,298.99 115.44,301.66 116.30,298.80 C117.16,295.94 117.41,290.28 117.90,286.10 C118.39,281.92 118.62,275.98 119.00,275.60 C119.38,275.22 119.53,280.38 120.00,284.00 C120.47,287.62 121.02,295.70 121.60,295.70 C122.18,295.70 122.62,287.33 123.20,284.00 C123.78,280.67 124.31,277.58 124.80,277.20 C125.29,276.82 125.52,279.15 125.90,281.90 C126.28,284.65 126.52,289.42 126.90,292.50 C127.28,295.58 127.59,293.69 128.00,299.00 C128.41,304.31 128.70,314.62 129.20,322.00 C129.70,329.38 130.19,335.50 130.80,340.00 C131.41,344.50 132.08,344.48 132.60,347.00 C133.12,349.52 133.29,350.04 133.70,354.00 C134.11,357.96 134.45,364.32 134.90,369.00 C135.35,373.68 135.88,374.42 136.20,380.00 C136.52,385.58 136.39,393.92 136.70,400.00 C137.01,406.08 137.58,410.20 137.90,413.80 C138.22,417.40 138.01,417.17 138.50,420.00 C138.99,422.83 139.54,426.89 140.60,429.50 C141.66,432.11 143.03,433.26 144.40,434.50 C145.77,435.74 146.83,435.90 148.20,436.40 C149.57,436.90 136.20,437.10 152.00,437.30 C167.80,437.50 220.88,437.46 236.00,437.50" fill="none" stroke="#1a1a1a" stroke-width="1"/>
<path d="M48.90,437.70 L48.90,312.50 L49.90,312.50 L50.60,428.00 L50.60,428.00 C50.78,428.54 51.11,430.39 51.60,431.00 C52.09,431.61 52.69,431.85 53.30,431.40 C53.91,430.95 54.32,429.53 55.00,428.50 C55.68,427.47 56.20,426.33 57.10,425.70 C58.00,425.07 58.96,425.09 60.00,425.00 C61.04,424.91 61.87,424.98 62.90,425.20 C63.93,425.42 64.42,426.79 65.70,426.20 C66.98,425.61 68.47,422.22 70.00,421.90 C71.53,421.58 72.89,423.16 74.20,424.40 C75.51,425.64 75.93,429.93 77.30,428.80 C78.67,427.67 80.31,420.37 81.80,418.10 C83.29,415.83 84.23,417.12 85.60,416.20 C86.97,415.28 88.03,414.60 89.40,413.00 C90.77,411.40 91.94,407.53 93.20,407.30 C94.46,407.07 95.03,412.51 96.40,411.70 C97.77,410.89 99.52,405.63 100.80,402.80 C102.08,399.97 102.51,399.20 103.50,396.00 C104.49,392.80 105.63,388.42 106.30,385.00 C106.97,381.58 106.77,380.60 107.20,377.00 C107.63,373.40 108.11,367.38 108.70,365.00 C109.29,362.62 109.87,363.28 110.50,363.80 C111.13,364.32 111.57,367.99 112.20,367.90 C112.83,367.81 113.37,367.06 114.00,363.30 C114.63,359.54 115.23,352.17 115.70,347.00 C116.17,341.83 116.10,333.16 116.60,334.60 C117.10,336.04 117.73,347.69 118.50,355.00 C119.27,362.31 120.04,373.71 120.90,375.20 C121.76,376.69 122.35,369.64 123.30,363.30 C124.25,356.96 125.48,348.15 126.20,340.00 C126.92,331.85 126.89,325.20 127.30,318.00 C127.71,310.80 128.05,302.34 128.50,300.00 C128.95,297.66 129.33,302.93 129.80,305.00 C130.27,307.07 130.58,312.99 131.10,311.50 C131.62,310.01 132.12,303.16 132.70,296.70 C133.28,290.24 133.72,277.51 134.30,275.60 C134.88,273.69 135.41,280.77 135.90,286.10 C136.39,291.43 136.59,295.46 137.00,305.20 C137.41,314.94 137.70,336.94 138.20,340.20 C138.70,343.46 139.13,327.87 139.80,323.30 C140.47,318.73 141.23,315.20 141.90,314.80 C142.57,314.40 142.94,318.81 143.50,321.10 C144.06,323.39 144.24,324.64 145.00,327.50 C145.76,330.36 146.84,337.58 147.70,337.00 C148.56,336.42 149.22,327.63 149.80,324.30 C150.38,320.97 150.43,318.30 150.90,318.50 C151.37,318.70 151.84,323.60 152.40,325.40 C152.96,327.20 153.42,327.55 154.00,328.50 C154.58,329.45 155.02,328.99 155.60,330.70 C156.18,332.41 156.79,335.89 157.20,338.00 C157.61,340.11 157.29,341.90 157.90,342.40 C158.51,342.90 160.02,339.67 160.60,340.80 C161.18,341.93 160.72,344.04 161.10,348.70 C161.48,353.36 162.23,361.17 162.70,366.70 C163.17,372.23 162.94,378.07 163.70,379.40 C164.46,380.73 166.04,374.48 166.90,374.10 C167.76,373.72 168.07,373.54 168.50,377.30 C168.93,381.06 168.76,388.70 169.30,395.00 C169.84,401.30 170.40,408.21 171.50,412.30 C172.60,416.39 174.28,415.49 175.40,417.70 C176.52,419.91 176.87,421.70 177.70,424.60 C178.53,427.50 179.32,431.60 180.00,433.80 C180.68,436.00 180.69,436.22 181.50,436.80 C182.31,437.38 183.38,437.22 184.50,437.00 C185.62,436.78 186.62,435.56 187.70,435.60 C188.78,435.64 181.81,436.88 190.50,437.20 C199.19,437.52 227.81,437.36 236.00,437.40" fill="none" stroke="#111" stroke-width="2.4" stroke-linejoin="round"/>
<line x1="49.5" y1="265" x2="49.5" y2="314" stroke="#808080" stroke-width="1.4"/>
<line x1="48" y1="265.1" x2="235.3" y2="265.1" stroke="#3a3a3a" stroke-width="1.5"/>
<line x1="235.3" y1="265.1" x2="235.3" y2="437.7" stroke="#3a3a3a" stroke-width="1.5"/>
<line x1="48" y1="264.40000000000003" x2="48" y2="440.2" stroke="#111" stroke-width="1.6"/>
<line x1="45.5" y1="437.7" x2="235.3" y2="437.7" stroke="#111" stroke-width="1.6"/>
<line x1="43.4" y1="437.7" x2="48" y2="437.7" stroke="#222" stroke-width="1.1"/>
<text x="0" y="0" transform="translate(39.8,441.2) scale(1.12,1)" text-anchor="end" font-size="8.3" fill="#111">0</text>
<line x1="46.4" y1="429.4" x2="48" y2="429.4" stroke="#222" stroke-width="0.9"/>
<line x1="46.4" y1="421.2" x2="48" y2="421.2" stroke="#222" stroke-width="0.9"/>
<line x1="46.4" y1="412.9" x2="48" y2="412.9" stroke="#222" stroke-width="0.9"/>
<line x1="43.4" y1="404.7" x2="48" y2="404.7" stroke="#222" stroke-width="1.1"/>
<text x="0" y="0" transform="translate(39.8,408.2) scale(1.12,1)" text-anchor="end" font-size="8.3" fill="#111">20</text>
<line x1="46.4" y1="396.4" x2="48" y2="396.4" stroke="#222" stroke-width="0.9"/>
<line x1="46.4" y1="388.1" x2="48" y2="388.1" stroke="#222" stroke-width="0.9"/>
<line x1="46.4" y1="379.9" x2="48" y2="379.9" stroke="#222" stroke-width="0.9"/>
<line x1="43.4" y1="371.6" x2="48" y2="371.6" stroke="#222" stroke-width="1.1"/>
<text x="0" y="0" transform="translate(39.8,375.1) scale(1.12,1)" text-anchor="end" font-size="8.3" fill="#111">40</text>
<line x1="46.4" y1="363.4" x2="48" y2="363.4" stroke="#222" stroke-width="0.9"/>
<line x1="46.4" y1="355.1" x2="48" y2="355.1" stroke="#222" stroke-width="0.9"/>
<line x1="46.4" y1="346.8" x2="48" y2="346.8" stroke="#222" stroke-width="0.9"/>
<line x1="43.4" y1="338.6" x2="48" y2="338.6" stroke="#222" stroke-width="1.1"/>
<text x="0" y="0" transform="translate(39.8,342.1) scale(1.12,1)" text-anchor="end" font-size="8.3" fill="#111">60</text>
<line x1="46.4" y1="330.3" x2="48" y2="330.3" stroke="#222" stroke-width="0.9"/>
<line x1="46.4" y1="322.1" x2="48" y2="322.1" stroke="#222" stroke-width="0.9"/>
<line x1="46.4" y1="313.8" x2="48" y2="313.8" stroke="#222" stroke-width="0.9"/>
<line x1="43.4" y1="305.5" x2="48" y2="305.5" stroke="#222" stroke-width="1.1"/>
<text x="0" y="0" transform="translate(39.8,309.0) scale(1.12,1)" text-anchor="end" font-size="8.3" fill="#111">80</text>
<line x1="46.4" y1="297.3" x2="48" y2="297.3" stroke="#222" stroke-width="0.9"/>
<line x1="46.4" y1="289.0" x2="48" y2="289.0" stroke="#222" stroke-width="0.9"/>
<line x1="46.4" y1="280.8" x2="48" y2="280.8" stroke="#222" stroke-width="0.9"/>
<line x1="43.4" y1="272.5" x2="48" y2="272.5" stroke="#222" stroke-width="1.1"/>
<text x="0" y="0" transform="translate(39.8,276.0) scale(1.12,1)" text-anchor="end" font-size="8.3" fill="#111">100</text>
<line x1="48.00" y1="437.7" x2="48.00" y2="441.7" stroke="#222" stroke-width="0.9"/>
<line x1="62.09" y1="437.7" x2="62.09" y2="439.7" stroke="#222" stroke-width="0.9"/>
<line x1="70.33" y1="437.7" x2="70.33" y2="439.7" stroke="#222" stroke-width="0.9"/>
<line x1="76.18" y1="437.7" x2="76.18" y2="439.7" stroke="#222" stroke-width="0.9"/>
<line x1="80.71" y1="437.7" x2="80.71" y2="439.7" stroke="#222" stroke-width="0.9"/>
<line x1="84.42" y1="437.7" x2="84.42" y2="439.7" stroke="#222" stroke-width="0.9"/>
<line x1="87.55" y1="437.7" x2="87.55" y2="439.7" stroke="#222" stroke-width="0.9"/>
<line x1="90.26" y1="437.7" x2="90.26" y2="439.7" stroke="#222" stroke-width="0.9"/>
<line x1="92.66" y1="437.7" x2="92.66" y2="439.7" stroke="#222" stroke-width="0.9"/>
<line x1="94.80" y1="437.7" x2="94.80" y2="441.7" stroke="#222" stroke-width="0.9"/>
<line x1="108.89" y1="437.7" x2="108.89" y2="439.7" stroke="#222" stroke-width="0.9"/>
<line x1="117.13" y1="437.7" x2="117.13" y2="439.7" stroke="#222" stroke-width="0.9"/>
<line x1="122.98" y1="437.7" x2="122.98" y2="439.7" stroke="#222" stroke-width="0.9"/>
<line x1="127.51" y1="437.7" x2="127.51" y2="439.7" stroke="#222" stroke-width="0.9"/>
<line x1="131.22" y1="437.7" x2="131.22" y2="439.7" stroke="#222" stroke-width="0.9"/>
<line x1="134.35" y1="437.7" x2="134.35" y2="439.7" stroke="#222" stroke-width="0.9"/>
<line x1="137.06" y1="437.7" x2="137.06" y2="439.7" stroke="#222" stroke-width="0.9"/>
<line x1="139.46" y1="437.7" x2="139.46" y2="439.7" stroke="#222" stroke-width="0.9"/>
<line x1="141.60" y1="437.7" x2="141.60" y2="441.7" stroke="#222" stroke-width="0.9"/>
<line x1="155.69" y1="437.7" x2="155.69" y2="439.7" stroke="#222" stroke-width="0.9"/>
<line x1="163.93" y1="437.7" x2="163.93" y2="439.7" stroke="#222" stroke-width="0.9"/>
<line x1="169.78" y1="437.7" x2="169.78" y2="439.7" stroke="#222" stroke-width="0.9"/>
<line x1="174.31" y1="437.7" x2="174.31" y2="439.7" stroke="#222" stroke-width="0.9"/>
<line x1="178.02" y1="437.7" x2="178.02" y2="439.7" stroke="#222" stroke-width="0.9"/>
<line x1="181.15" y1="437.7" x2="181.15" y2="439.7" stroke="#222" stroke-width="0.9"/>
<line x1="183.86" y1="437.7" x2="183.86" y2="439.7" stroke="#222" stroke-width="0.9"/>
<line x1="186.26" y1="437.7" x2="186.26" y2="439.7" stroke="#222" stroke-width="0.9"/>
<line x1="188.40" y1="437.7" x2="188.40" y2="441.7" stroke="#222" stroke-width="0.9"/>
<line x1="202.49" y1="437.7" x2="202.49" y2="439.7" stroke="#222" stroke-width="0.9"/>
<line x1="210.73" y1="437.7" x2="210.73" y2="439.7" stroke="#222" stroke-width="0.9"/>
<line x1="216.58" y1="437.7" x2="216.58" y2="439.7" stroke="#222" stroke-width="0.9"/>
<line x1="221.11" y1="437.7" x2="221.11" y2="439.7" stroke="#222" stroke-width="0.9"/>
<line x1="224.82" y1="437.7" x2="224.82" y2="439.7" stroke="#222" stroke-width="0.9"/>
<line x1="227.95" y1="437.7" x2="227.95" y2="439.7" stroke="#222" stroke-width="0.9"/>
<line x1="230.66" y1="437.7" x2="230.66" y2="439.7" stroke="#222" stroke-width="0.9"/>
<line x1="233.06" y1="437.7" x2="233.06" y2="439.7" stroke="#222" stroke-width="0.9"/>
<line x1="235.30" y1="437.7" x2="235.30" y2="441.7" stroke="#222" stroke-width="0.9"/>
<text x="0" y="0" transform="translate(46.8,455.4) scale(1.12,1)" text-anchor="middle" font-size="8.1" fill="#111">10<tspan dy="-4.6" font-size="5.9">0</tspan></text>
<text x="0" y="0" transform="translate(93.6,455.4) scale(1.12,1)" text-anchor="middle" font-size="8.1" fill="#111">10<tspan dy="-4.6" font-size="5.9">1</tspan></text>
<text x="0" y="0" transform="translate(140.4,455.4) scale(1.12,1)" text-anchor="middle" font-size="8.1" fill="#111">10<tspan dy="-4.6" font-size="5.9">2</tspan></text>
<text x="0" y="0" transform="translate(187.2,455.4) scale(1.12,1)" text-anchor="middle" font-size="8.1" fill="#111">10<tspan dy="-4.6" font-size="5.9">3</tspan></text>
<text x="0" y="0" transform="translate(234.0,455.4) scale(1.12,1)" text-anchor="middle" font-size="8.1" fill="#111">10<tspan dy="-4.6" font-size="5.9">4</tspan></text>
<text transform="translate(29.8,345.4) rotate(-90)" text-anchor="middle" font-size="17.6" fill="#000">% of max</text>
<text x="104" y="469.8" font-size="14.3" word-spacing="1.2" fill="#000" xml:space="preserve">JON/A  PE</text>
<rect x="168.6" y="279.2" width="19.8" height="4.2" fill="#ededed" stroke="#999" stroke-width="0.9"/>
<rect x="168.2" y="290.8" width="20.6" height="3.8" fill="#222" stroke="#111" stroke-width="0.9"/>
<rect x="168.6" y="303.4" width="20.6" height="4.4" fill="#fff" stroke="#222" stroke-width="1"/>
<text x="192.7" y="283.3" font-size="11.3" fill="#000">WT</text>
<text x="192.7" y="295.2" font-size="11.3" fill="#000">KO</text>
<text x="192.9" y="306.6" font-size="11.3" fill="#000">isotype</text>
<text x="264.7" y="282.2" font-size="24" font-weight="bold" fill="#000">D</text>
<path d="M317.00,437.70 C317.18,436.67 317.64,432.58 318.00,432.00 C318.36,431.42 318.08,434.10 319.00,434.50 C319.92,434.90 321.12,434.45 323.10,434.20 C325.08,433.95 327.30,433.51 330.00,433.10 C332.70,432.69 335.18,432.17 338.10,431.90 C341.02,431.63 343.09,432.05 346.20,431.60 C349.31,431.15 352.50,430.19 355.40,429.40 C358.30,428.61 360.23,427.81 362.30,427.20 C364.37,426.59 364.83,426.00 366.90,426.00 C368.97,426.00 371.30,426.57 373.80,427.20 C376.30,427.83 378.30,428.46 380.80,429.50 C383.30,430.54 385.63,432.10 387.70,433.00 C389.77,433.90 390.64,434.90 392.30,434.50 C393.96,434.10 395.44,432.10 396.90,430.80 C398.36,429.50 399.39,428.52 400.40,427.30 C401.41,426.08 401.67,425.67 402.50,424.00 C403.33,422.33 404.01,421.42 405.00,418.00 C405.99,414.58 406.99,410.04 408.00,405.00 C409.01,399.96 409.79,395.94 410.60,390.00 C411.41,384.06 411.89,377.94 412.50,372.00 C413.11,366.06 413.37,362.76 414.00,357.00 C414.63,351.24 415.35,346.12 416.00,340.00 C416.65,333.88 416.99,328.94 417.60,323.00 C418.21,317.06 418.79,311.50 419.40,307.00 C420.01,302.50 420.35,299.98 421.00,298.00 C421.65,296.02 422.32,296.58 423.00,296.00 C423.68,295.42 424.22,294.44 424.80,294.80 C425.38,295.16 425.71,298.14 426.20,298.00 C426.69,297.86 426.91,295.08 427.50,294.00 C428.09,292.92 428.83,290.74 429.50,292.00 C430.17,293.26 430.57,297.76 431.20,301.00 C431.83,304.24 432.32,306.22 433.00,310.00 C433.68,313.78 434.37,318.40 435.00,322.00 C435.63,325.60 435.82,327.66 436.50,330.00 C437.18,332.34 438.08,332.30 438.80,335.00 C439.52,337.70 439.92,341.94 440.50,345.00 C441.08,348.06 441.28,349.30 442.00,352.00 C442.72,354.70 443.60,357.12 444.50,360.00 C445.40,362.88 445.94,365.10 447.00,368.00 C448.06,370.90 449.36,374.07 450.40,376.10 C451.44,378.13 451.94,377.30 452.80,379.30 C453.66,381.30 454.34,384.79 455.20,387.20 C456.06,389.61 456.74,389.86 457.60,392.70 C458.46,395.54 459.15,399.72 460.00,403.00 C460.85,406.28 461.45,408.04 462.30,410.90 C463.15,413.76 463.69,415.75 464.70,418.90 C465.71,422.05 466.77,425.56 467.90,428.40 C469.03,431.24 469.90,433.15 471.00,434.70 C472.10,436.25 473.10,436.46 474.00,437.00 C474.90,437.54 475.64,437.57 476.00,437.70 Z" fill="#dadada" stroke="none"/>
<path d="M317.00,437.70 C317.18,436.67 317.64,432.58 318.00,432.00 C318.36,431.42 318.08,434.10 319.00,434.50 C319.92,434.90 321.12,434.45 323.10,434.20 C325.08,433.95 327.30,433.51 330.00,433.10 C332.70,432.69 335.18,432.17 338.10,431.90 C341.02,431.63 343.09,432.05 346.20,431.60 C349.31,431.15 352.50,430.19 355.40,429.40 C358.30,428.61 360.23,427.81 362.30,427.20 C364.37,426.59 364.83,426.00 366.90,426.00 C368.97,426.00 371.30,426.57 373.80,427.20 C376.30,427.83 378.30,428.46 380.80,429.50 C383.30,430.54 385.63,432.10 387.70,433.00 C389.77,433.90 390.64,434.90 392.30,434.50 C393.96,434.10 395.44,432.10 396.90,430.80 C398.36,429.50 399.39,428.52 400.40,427.30 C401.41,426.08 401.67,425.67 402.50,424.00 C403.33,422.33 404.01,421.42 405.00,418.00 C405.99,414.58 406.99,410.04 408.00,405.00 C409.01,399.96 409.79,395.94 410.60,390.00 C411.41,384.06 411.89,377.94 412.50,372.00 C413.11,366.06 413.37,362.76 414.00,357.00 C414.63,351.24 415.35,346.12 416.00,340.00 C416.65,333.88 416.99,328.94 417.60,323.00 C418.21,317.06 418.79,311.50 419.40,307.00 C420.01,302.50 420.35,299.98 421.00,298.00 C421.65,296.02 422.32,296.58 423.00,296.00 C423.68,295.42 424.22,294.44 424.80,294.80 C425.38,295.16 425.71,298.14 426.20,298.00 C426.69,297.86 426.91,295.08 427.50,294.00 C428.09,292.92 428.83,290.74 429.50,292.00 C430.17,293.26 430.57,297.76 431.20,301.00 C431.83,304.24 432.32,306.22 433.00,310.00 C433.68,313.78 434.37,318.40 435.00,322.00 C435.63,325.60 435.82,327.66 436.50,330.00 C437.18,332.34 438.08,332.30 438.80,335.00 C439.52,337.70 439.92,341.94 440.50,345.00 C441.08,348.06 441.28,349.30 442.00,352.00 C442.72,354.70 443.60,357.12 444.50,360.00 C445.40,362.88 445.94,365.10 447.00,368.00 C448.06,370.90 449.36,374.07 450.40,376.10 C451.44,378.13 451.94,377.30 452.80,379.30 C453.66,381.30 454.34,384.79 455.20,387.20 C456.06,389.61 456.74,389.86 457.60,392.70 C458.46,395.54 459.15,399.72 460.00,403.00 C460.85,406.28 461.45,408.04 462.30,410.90 C463.15,413.76 463.69,415.75 464.70,418.90 C465.71,422.05 466.77,425.56 467.90,428.40 C469.03,431.24 469.90,433.15 471.00,434.70 C472.10,436.25 473.10,436.46 474.00,437.00 C474.90,437.54 475.64,437.57 476.00,437.70" fill="none" stroke="#8a8a8a" stroke-width="1"/>
<path d="M317.20,300.00 C317.40,303.87 317.76,316.71 318.30,321.50 C318.84,326.29 319.52,326.26 320.20,326.60 C320.88,326.94 321.42,325.47 322.10,323.40 C322.78,321.33 323.42,317.04 324.00,315.10 C324.58,313.16 324.83,314.24 325.30,312.60 C325.77,310.96 326.08,307.87 326.60,306.00 C327.12,304.13 327.82,304.99 328.20,302.20 C328.58,299.41 328.41,294.69 328.70,290.50 C328.99,286.31 329.40,280.70 329.80,278.90 C330.20,277.10 330.43,278.02 330.90,280.50 C331.37,282.98 331.84,292.41 332.40,292.70 C332.96,292.99 333.42,285.25 334.00,282.10 C334.58,278.95 335.11,275.58 335.60,275.20 C336.09,274.82 336.12,278.76 336.70,280.00 C337.28,281.24 338.04,280.77 338.80,282.10 C339.56,283.43 340.14,287.60 340.90,287.40 C341.66,287.20 342.24,280.62 343.00,281.00 C343.76,281.38 344.34,289.12 345.10,289.50 C345.86,289.88 346.53,283.86 347.20,283.10 C347.87,282.34 348.40,283.19 348.80,285.30 C349.20,287.41 349.02,292.51 349.40,294.80 C349.78,297.09 350.43,296.29 350.90,298.00 C351.37,299.71 351.71,300.88 352.00,304.30 C352.29,307.72 352.39,312.30 352.50,317.00 C352.61,321.70 352.35,325.70 352.60,330.40 C352.85,335.10 353.32,339.23 353.90,343.10 C354.48,346.97 355.12,347.96 355.80,351.90 C356.48,355.84 357.07,359.58 357.70,365.00 C358.33,370.42 358.54,375.29 359.30,382.00 C360.06,388.71 360.98,395.60 361.90,402.30 C362.82,409.00 363.50,414.03 364.40,419.20 C365.30,424.37 365.84,428.12 366.90,431.00 C367.96,433.88 369.38,434.14 370.30,435.20 C371.22,436.26 371.33,436.45 372.00,436.90 C372.67,437.35 373.64,437.56 374.00,437.70" fill="none" stroke="#111" stroke-width="1"/>
<path d="M317.50,437.70 C317.66,434.82 318.02,422.15 318.40,421.70 C318.78,421.25 318.93,432.63 319.60,435.20 C320.27,437.77 321.04,436.09 322.10,436.00 C323.16,435.91 323.97,434.84 325.50,434.70 C327.03,434.56 329.07,435.25 330.60,435.20 C332.13,435.15 332.63,434.80 334.00,434.40 C335.37,434.00 336.99,432.91 338.20,433.00 C339.41,433.09 339.33,434.81 340.70,434.90 C342.07,434.99 343.96,434.06 345.80,433.50 C347.64,432.94 349.08,432.11 350.90,431.80 C352.72,431.49 354.08,431.94 355.90,431.80 C357.72,431.66 359.63,431.40 361.00,431.00 C362.37,430.60 362.02,429.76 363.50,429.60 C364.98,429.44 366.91,429.76 369.20,430.10 C371.49,430.44 373.70,430.96 376.20,431.50 C378.70,432.04 380.81,432.40 383.10,433.10 C385.39,433.80 387.24,434.99 388.90,435.40 C390.56,435.81 390.86,436.03 392.30,435.40 C393.74,434.77 395.69,432.60 396.90,431.90 C398.11,431.20 398.17,432.33 399.00,431.50 C399.83,430.67 400.80,428.43 401.50,427.30 C402.20,426.17 402.07,427.86 402.90,425.20 C403.73,422.54 405.09,417.63 406.10,412.50 C407.11,407.37 407.65,402.41 408.50,396.70 C409.35,390.99 410.10,386.51 410.80,380.80 C411.50,375.09 411.82,369.75 412.40,365.00 C412.98,360.25 413.37,358.83 414.00,354.40 C414.63,349.97 415.32,346.11 415.90,340.40 C416.48,334.69 416.79,328.14 417.20,322.70 C417.61,317.26 417.79,313.37 418.20,310.20 C418.61,307.03 419.05,308.07 419.50,305.10 C419.95,302.13 420.32,296.33 420.70,293.70 C421.08,291.07 421.26,292.41 421.60,290.50 C421.94,288.59 422.11,285.85 422.60,283.10 C423.09,280.35 423.81,275.20 424.30,275.20 C424.79,275.20 424.89,279.86 425.30,283.10 C425.71,286.34 426.13,292.62 426.60,293.20 C427.07,293.78 427.47,287.92 427.90,286.30 C428.33,284.68 428.62,283.62 429.00,284.20 C429.38,284.78 429.62,286.84 430.00,289.50 C430.38,292.16 430.70,296.71 431.10,299.00 C431.50,301.29 431.82,301.73 432.20,302.20 C432.58,302.67 432.82,297.91 433.20,301.60 C433.58,305.29 433.87,318.45 434.30,322.70 C434.73,326.95 435.26,323.83 435.60,325.20 C435.94,326.57 435.62,328.70 436.20,330.30 C436.78,331.90 438.12,331.81 438.80,334.10 C439.48,336.39 439.55,339.80 440.00,343.00 C440.45,346.20 440.72,349.61 441.30,351.90 C441.88,354.19 442.62,354.12 443.20,355.70 C443.78,357.28 444.19,359.03 444.50,360.70 C444.81,362.37 444.40,362.52 444.90,365.00 C445.40,367.48 446.31,370.79 447.30,374.50 C448.29,378.21 449.27,381.03 450.40,385.60 C451.53,390.17 452.45,395.35 453.60,399.90 C454.75,404.45 456.10,408.72 456.80,410.90 C457.50,413.08 456.92,410.85 457.50,412.00 C458.08,413.15 459.32,416.13 460.00,417.30 C460.68,418.47 460.74,417.37 461.30,418.50 C461.86,419.63 462.40,422.02 463.10,423.60 C463.80,425.18 464.62,426.15 465.20,427.30 C465.78,428.45 465.62,428.79 466.30,430.00 C466.98,431.21 467.65,432.76 469.00,434.00 C470.35,435.24 467.50,436.31 473.80,436.90 C480.10,437.49 498.56,437.23 504.00,437.30" fill="none" stroke="#111" stroke-width="2.2" stroke-linejoin="round"/>
<line x1="318.3" y1="265" x2="318.3" y2="437" stroke="#6a6a6a" stroke-width="1.3"/>
<line x1="316.9" y1="265.1" x2="504" y2="265.1" stroke="#3a3a3a" stroke-width="1.5"/>
<line x1="504" y1="265.1" x2="504" y2="437.7" stroke="#3a3a3a" stroke-width="1.5"/>
<line x1="316.9" y1="264.40000000000003" x2="316.9" y2="440.2" stroke="#111" stroke-width="1.6"/>
<line x1="314.4" y1="437.7" x2="504" y2="437.7" stroke="#111" stroke-width="1.6"/>
<line x1="312.3" y1="437.7" x2="316.9" y2="437.7" stroke="#222" stroke-width="1.1"/>
<text x="0" y="0" transform="translate(308.7,441.2) scale(1.12,1)" text-anchor="end" font-size="8.3" fill="#111">0</text>
<line x1="315.3" y1="429.4" x2="316.9" y2="429.4" stroke="#222" stroke-width="0.9"/>
<line x1="315.3" y1="421.2" x2="316.9" y2="421.2" stroke="#222" stroke-width="0.9"/>
<line x1="315.3" y1="412.9" x2="316.9" y2="412.9" stroke="#222" stroke-width="0.9"/>
<line x1="312.3" y1="404.7" x2="316.9" y2="404.7" stroke="#222" stroke-width="1.1"/>
<text x="0" y="0" transform="translate(308.7,408.2) scale(1.12,1)" text-anchor="end" font-size="8.3" fill="#111">20</text>
<line x1="315.3" y1="396.4" x2="316.9" y2="396.4" stroke="#222" stroke-width="0.9"/>
<line x1="315.3" y1="388.1" x2="316.9" y2="388.1" stroke="#222" stroke-width="0.9"/>
<line x1="315.3" y1="379.9" x2="316.9" y2="379.9" stroke="#222" stroke-width="0.9"/>
<line x1="312.3" y1="371.6" x2="316.9" y2="371.6" stroke="#222" stroke-width="1.1"/>
<text x="0" y="0" transform="translate(308.7,375.1) scale(1.12,1)" text-anchor="end" font-size="8.3" fill="#111">40</text>
<line x1="315.3" y1="363.4" x2="316.9" y2="363.4" stroke="#222" stroke-width="0.9"/>
<line x1="315.3" y1="355.1" x2="316.9" y2="355.1" stroke="#222" stroke-width="0.9"/>
<line x1="315.3" y1="346.8" x2="316.9" y2="346.8" stroke="#222" stroke-width="0.9"/>
<line x1="312.3" y1="338.6" x2="316.9" y2="338.6" stroke="#222" stroke-width="1.1"/>
<text x="0" y="0" transform="translate(308.7,342.1) scale(1.12,1)" text-anchor="end" font-size="8.3" fill="#111">60</text>
<line x1="315.3" y1="330.3" x2="316.9" y2="330.3" stroke="#222" stroke-width="0.9"/>
<line x1="315.3" y1="322.1" x2="316.9" y2="322.1" stroke="#222" stroke-width="0.9"/>
<line x1="315.3" y1="313.8" x2="316.9" y2="313.8" stroke="#222" stroke-width="0.9"/>
<line x1="312.3" y1="305.5" x2="316.9" y2="305.5" stroke="#222" stroke-width="1.1"/>
<text x="0" y="0" transform="translate(308.7,309.0) scale(1.12,1)" text-anchor="end" font-size="8.3" fill="#111">80</text>
<line x1="315.3" y1="297.3" x2="316.9" y2="297.3" stroke="#222" stroke-width="0.9"/>
<line x1="315.3" y1="289.0" x2="316.9" y2="289.0" stroke="#222" stroke-width="0.9"/>
<line x1="315.3" y1="280.8" x2="316.9" y2="280.8" stroke="#222" stroke-width="0.9"/>
<line x1="312.3" y1="272.5" x2="316.9" y2="272.5" stroke="#222" stroke-width="1.1"/>
<text x="0" y="0" transform="translate(308.7,276.0) scale(1.12,1)" text-anchor="end" font-size="8.3" fill="#111">100</text>
<line x1="316.90" y1="437.7" x2="316.90" y2="441.7" stroke="#222" stroke-width="0.9"/>
<line x1="330.99" y1="437.7" x2="330.99" y2="439.7" stroke="#222" stroke-width="0.9"/>
<line x1="339.23" y1="437.7" x2="339.23" y2="439.7" stroke="#222" stroke-width="0.9"/>
<line x1="345.08" y1="437.7" x2="345.08" y2="439.7" stroke="#222" stroke-width="0.9"/>
<line x1="349.61" y1="437.7" x2="349.61" y2="439.7" stroke="#222" stroke-width="0.9"/>
<line x1="353.32" y1="437.7" x2="353.32" y2="439.7" stroke="#222" stroke-width="0.9"/>
<line x1="356.45" y1="437.7" x2="356.45" y2="439.7" stroke="#222" stroke-width="0.9"/>
<line x1="359.16" y1="437.7" x2="359.16" y2="439.7" stroke="#222" stroke-width="0.9"/>
<line x1="361.56" y1="437.7" x2="361.56" y2="439.7" stroke="#222" stroke-width="0.9"/>
<line x1="363.70" y1="437.7" x2="363.70" y2="441.7" stroke="#222" stroke-width="0.9"/>
<line x1="377.79" y1="437.7" x2="377.79" y2="439.7" stroke="#222" stroke-width="0.9"/>
<line x1="386.03" y1="437.7" x2="386.03" y2="439.7" stroke="#222" stroke-width="0.9"/>
<line x1="391.88" y1="437.7" x2="391.88" y2="439.7" stroke="#222" stroke-width="0.9"/>
<line x1="396.41" y1="437.7" x2="396.41" y2="439.7" stroke="#222" stroke-width="0.9"/>
<line x1="400.12" y1="437.7" x2="400.12" y2="439.7" stroke="#222" stroke-width="0.9"/>
<line x1="403.25" y1="437.7" x2="403.25" y2="439.7" stroke="#222" stroke-width="0.9"/>
<line x1="405.96" y1="437.7" x2="405.96" y2="439.7" stroke="#222" stroke-width="0.9"/>
<line x1="408.36" y1="437.7" x2="408.36" y2="439.7" stroke="#222" stroke-width="0.9"/>
<line x1="410.50" y1="437.7" x2="410.50" y2="441.7" stroke="#222" stroke-width="0.9"/>
<line x1="424.59" y1="437.7" x2="424.59" y2="439.7" stroke="#222" stroke-width="0.9"/>
<line x1="432.83" y1="437.7" x2="432.83" y2="439.7" stroke="#222" stroke-width="0.9"/>
<line x1="438.68" y1="437.7" x2="438.68" y2="439.7" stroke="#222" stroke-width="0.9"/>
<line x1="443.21" y1="437.7" x2="443.21" y2="439.7" stroke="#222" stroke-width="0.9"/>
<line x1="446.92" y1="437.7" x2="446.92" y2="439.7" stroke="#222" stroke-width="0.9"/>
<line x1="450.05" y1="437.7" x2="450.05" y2="439.7" stroke="#222" stroke-width="0.9"/>
<line x1="452.76" y1="437.7" x2="452.76" y2="439.7" stroke="#222" stroke-width="0.9"/>
<line x1="455.16" y1="437.7" x2="455.16" y2="439.7" stroke="#222" stroke-width="0.9"/>
<line x1="457.30" y1="437.7" x2="457.30" y2="441.7" stroke="#222" stroke-width="0.9"/>
<line x1="471.39" y1="437.7" x2="471.39" y2="439.7" stroke="#222" stroke-width="0.9"/>
<line x1="479.63" y1="437.7" x2="479.63" y2="439.7" stroke="#222" stroke-width="0.9"/>
<line x1="485.48" y1="437.7" x2="485.48" y2="439.7" stroke="#222" stroke-width="0.9"/>
<line x1="490.01" y1="437.7" x2="490.01" y2="439.7" stroke="#222" stroke-width="0.9"/>
<line x1="493.72" y1="437.7" x2="493.72" y2="439.7" stroke="#222" stroke-width="0.9"/>
<line x1="496.85" y1="437.7" x2="496.85" y2="439.7" stroke="#222" stroke-width="0.9"/>
<line x1="499.56" y1="437.7" x2="499.56" y2="439.7" stroke="#222" stroke-width="0.9"/>
<line x1="501.96" y1="437.7" x2="501.96" y2="439.7" stroke="#222" stroke-width="0.9"/>
<line x1="504.00" y1="437.7" x2="504.00" y2="441.7" stroke="#222" stroke-width="0.9"/>
<text x="0" y="0" transform="translate(315.7,455.4) scale(1.12,1)" text-anchor="middle" font-size="8.1" fill="#111">10<tspan dy="-4.6" font-size="5.9">0</tspan></text>
<text x="0" y="0" transform="translate(362.5,455.4) scale(1.12,1)" text-anchor="middle" font-size="8.1" fill="#111">10<tspan dy="-4.6" font-size="5.9">1</tspan></text>
<text x="0" y="0" transform="translate(409.3,455.4) scale(1.12,1)" text-anchor="middle" font-size="8.1" fill="#111">10<tspan dy="-4.6" font-size="5.9">2</tspan></text>
<text x="0" y="0" transform="translate(456.1,455.4) scale(1.12,1)" text-anchor="middle" font-size="8.1" fill="#111">10<tspan dy="-4.6" font-size="5.9">3</tspan></text>
<text x="0" y="0" transform="translate(502.9,455.4) scale(1.12,1)" text-anchor="middle" font-size="8.1" fill="#111">10<tspan dy="-4.6" font-size="5.9">4</tspan></text>
<text x="371" y="470" font-size="14.4" word-spacing="1.6" fill="#000" xml:space="preserve">CD41  FITC</text>
<rect x="441.9" y="281.2" width="19.2" height="3.7" fill="#ededed" stroke="#999" stroke-width="0.9"/>
<rect x="441.5" y="292.4" width="20.2" height="3.8" fill="#222" stroke="#111" stroke-width="0.9"/>
<rect x="441.9" y="305.2" width="19.8" height="4.6" fill="#fff" stroke="#222" stroke-width="1"/>
<text x="465.8" y="284.9" font-size="11.3" fill="#000">WT</text>
<text x="465.8" y="297.1" font-size="11.3" fill="#000">KO</text>
<text x="466.4" y="307.7" font-size="11.3" fill="#000">isotype</text>
</svg>
</body></html>
